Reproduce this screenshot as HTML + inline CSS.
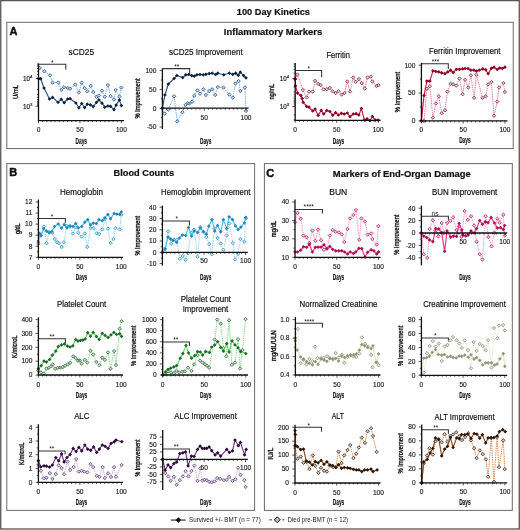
<!DOCTYPE html><html><head><meta charset="utf-8"><style>html,body{margin:0;padding:0;background:#fff;}svg{display:block;font-family:"Liberation Sans", sans-serif;will-change:transform;}</style></head><body>
<svg width="520" height="530" viewBox="0 0 520 530">
<rect x="0" y="0" width="520" height="530" fill="#fff"/>
<rect x="0.75" y="0.6" width="518.5" height="528.4" fill="none" stroke="#555" stroke-width="1.3"/>
<rect x="6.8" y="22.3" width="506.4" height="126.3" fill="none" stroke="#6a6a6a" stroke-width="1"/>
<rect x="6.8" y="163.6" width="247.8" height="346.8" fill="none" stroke="#6a6a6a" stroke-width="1"/>
<rect x="264.4" y="163.6" width="247.9" height="346.8" fill="none" stroke="#6a6a6a" stroke-width="1"/>
<text x="273.4" y="14.5" font-size="9.3" text-anchor="middle" font-weight="bold" fill="#111" textLength="73.1" lengthAdjust="spacingAndGlyphs" stroke="#111" stroke-width="0.2">100 Day Kinetics</text>
<text x="273" y="35.3" font-size="9.3" text-anchor="middle" font-weight="bold" fill="#111" textLength="98.3" lengthAdjust="spacingAndGlyphs" stroke="#111" stroke-width="0.2">Inflammatory Markers</text>
<text x="143.8" y="176.4" font-size="9.3" text-anchor="middle" font-weight="bold" fill="#111" textLength="60.5" lengthAdjust="spacingAndGlyphs" stroke="#111" stroke-width="0.2">Blood Counts</text>
<text x="401.8" y="176.5" font-size="9.3" text-anchor="middle" font-weight="bold" fill="#111" textLength="137.9" lengthAdjust="spacingAndGlyphs" stroke="#111" stroke-width="0.2">Markers of End-Organ Damage</text>
<text x="13.5" y="35.2" font-size="11" text-anchor="middle" font-weight="bold" fill="#111" stroke="#111" stroke-width="0.45">A</text>
<text x="13.3" y="176.1" font-size="11" text-anchor="middle" font-weight="bold" fill="#111" stroke="#111" stroke-width="0.45">B</text>
<text x="270.3" y="176.6" font-size="11" text-anchor="middle" font-weight="bold" fill="#111" stroke="#111" stroke-width="0.45">C</text>
<path d="M38.5 64.3H65.8V69.6" stroke="#333" stroke-width="1.05" fill="none"/>
<text x="52.3" y="65.2" font-size="6.6" text-anchor="middle" font-weight="normal" fill="#111">*</text>
<polyline points="39.7,68 44.3,71.3 50.1,75.3 52.6,82.7 58.3,82.5 61.5,90 64,87.2 67.7,88 70.1,88.8 75.3,84.5 78.9,92.5 81.7,82.7 84.6,88.2 87.3,91.3 90.7,85.8 93.2,92.1 96.5,96.8 98.9,95.6 102,90.7 104.8,96.8 107.9,85.1 110.6,96.2 114,99.5 115.7,90 119.4,96.5 121.4,87.6" fill="none" stroke="#7ea8d8" stroke-width="0.95" stroke-dasharray="1.5 0.8"/>
<path d="M39.7 66.3L41.4 68L39.7 69.7L38 68ZM44.3 69.6L46 71.3L44.3 73L42.6 71.3ZM50.1 73.6L51.8 75.3L50.1 77L48.4 75.3ZM52.6 81L54.3 82.7L52.6 84.4L50.9 82.7ZM58.3 80.8L60 82.5L58.3 84.2L56.6 82.5ZM61.5 88.3L63.2 90L61.5 91.7L59.8 90ZM64 85.5L65.7 87.2L64 88.9L62.3 87.2ZM67.7 86.3L69.4 88L67.7 89.7L66 88ZM70.1 87.1L71.8 88.8L70.1 90.5L68.4 88.8ZM75.3 82.8L77 84.5L75.3 86.2L73.6 84.5ZM78.9 90.8L80.6 92.5L78.9 94.2L77.2 92.5ZM81.7 81L83.4 82.7L81.7 84.4L80 82.7ZM84.6 86.5L86.3 88.2L84.6 89.9L82.9 88.2ZM87.3 89.6L89 91.3L87.3 93L85.6 91.3ZM90.7 84.1L92.4 85.8L90.7 87.5L89 85.8ZM93.2 90.4L94.9 92.1L93.2 93.8L91.5 92.1ZM96.5 95.1L98.2 96.8L96.5 98.5L94.8 96.8ZM98.9 93.9L100.6 95.6L98.9 97.3L97.2 95.6ZM102 89L103.7 90.7L102 92.4L100.3 90.7ZM104.8 95.1L106.5 96.8L104.8 98.5L103.1 96.8ZM107.9 83.4L109.6 85.1L107.9 86.8L106.2 85.1ZM110.6 94.5L112.3 96.2L110.6 97.9L108.9 96.2ZM114 97.8L115.7 99.5L114 101.2L112.3 99.5ZM115.7 88.3L117.4 90L115.7 91.7L114 90ZM119.4 94.8L121.1 96.5L119.4 98.2L117.7 96.5ZM121.4 85.9L123.1 87.6L121.4 89.3L119.7 87.6Z" fill="#c7d4e4" stroke="#4670a8" stroke-width="1"/>
<polyline points="38.5,78.4 40.7,78.7 44,88 49.5,99 52.6,97.4 58,102.3 61.2,99.3 64.2,102.7 67.7,99 70.1,98.7 75.9,103 78.9,107.8 81.7,103.5 84.6,107.6 87.3,104.2 90.3,104.8 93.2,106.6 96.5,102.3 98.9,99.9 102,103.2 104.8,107.2 107.9,106 110.6,106.4 114,109.7 116.1,105.1 119.4,99.9 121.4,105.6" fill="none" stroke="#34557f" stroke-width="1.15" stroke-linejoin="round"/>
<path d="M38.5 76.55L40.35 78.4L38.5 80.25L36.65 78.4ZM40.7 76.85L42.55 78.7L40.7 80.55L38.85 78.7ZM44 86.15L45.85 88L44 89.85L42.15 88ZM49.5 97.15L51.35 99L49.5 100.85L47.65 99ZM52.6 95.55L54.45 97.4L52.6 99.25L50.75 97.4ZM58 100.45L59.85 102.3L58 104.15L56.15 102.3ZM61.2 97.45L63.05 99.3L61.2 101.15L59.35 99.3ZM64.2 100.85L66.05 102.7L64.2 104.55L62.35 102.7ZM67.7 97.15L69.55 99L67.7 100.85L65.85 99ZM70.1 96.85L71.95 98.7L70.1 100.55L68.25 98.7ZM75.9 101.15L77.75 103L75.9 104.85L74.05 103ZM78.9 105.95L80.75 107.8L78.9 109.65L77.05 107.8ZM81.7 101.65L83.55 103.5L81.7 105.35L79.85 103.5ZM84.6 105.75L86.45 107.6L84.6 109.45L82.75 107.6ZM87.3 102.35L89.15 104.2L87.3 106.05L85.45 104.2ZM90.3 102.95L92.15 104.8L90.3 106.65L88.45 104.8ZM93.2 104.75L95.05 106.6L93.2 108.45L91.35 106.6ZM96.5 100.45L98.35 102.3L96.5 104.15L94.65 102.3ZM98.9 98.05L100.75 99.9L98.9 101.75L97.05 99.9ZM102 101.35L103.85 103.2L102 105.05L100.15 103.2ZM104.8 105.35L106.65 107.2L104.8 109.05L102.95 107.2ZM107.9 104.15L109.75 106L107.9 107.85L106.05 106ZM110.6 104.55L112.45 106.4L110.6 108.25L108.75 106.4ZM114 107.85L115.85 109.7L114 111.55L112.15 109.7ZM116.1 103.25L117.95 105.1L116.1 106.95L114.25 105.1ZM119.4 98.05L121.25 99.9L119.4 101.75L117.55 99.9ZM121.4 103.75L123.25 105.6L121.4 107.45L119.55 105.6Z" fill="#0b2440"/>
<path d="M38.5 63.5V121.2" stroke="#111" stroke-width="1.3"/>
<path d="M37.9 120.6H124" stroke="#111" stroke-width="1.3"/>
<path d="M38.5 120.6V123.2M42.64 120.6V122.1M46.79 120.6V122.1M50.94 120.6V122.1M55.08 120.6V122.1M59.23 120.6V122.1M63.37 120.6V122.1M67.52 120.6V122.1M71.66 120.6V122.1M75.81 120.6V122.1M79.95 120.6V123.2M84.09 120.6V122.1M88.24 120.6V122.1M92.38 120.6V122.1M96.53 120.6V122.1M100.67 120.6V122.1M104.82 120.6V122.1M108.97 120.6V122.1M113.11 120.6V122.1M117.26 120.6V122.1M121.4 120.6V123.2M35.7 78.4H38.5M35.7 106.4H38.5M36.9 64H38.5M36.9 66H38.5M36.9 68.5H38.5M36.9 71.3H38.5M36.9 74.6H38.5M36.9 89.6H38.5M36.9 94.5H38.5M36.9 97.4H38.5M36.9 99.5H38.5M36.9 101.4H38.5M36.9 102.9H38.5M36.9 104.2H38.5M36.9 105.3H38.5" stroke="#111" stroke-width="0.7"/>
<text x="32.5" y="81" font-size="6.4" text-anchor="end" fill="#222" stroke="#222" stroke-width="0.18">10<tspan font-size="4.4" dy="-2.7">4</tspan></text>
<text x="32.5" y="109" font-size="6.4" text-anchor="end" fill="#222" stroke="#222" stroke-width="0.18">10<tspan font-size="4.4" dy="-2.7">3</tspan></text>
<text x="38.5" y="132.1" font-size="6.6" text-anchor="middle" font-weight="normal" fill="#222" stroke="#222" stroke-width="0.15">0</text>
<text x="79.95" y="132.1" font-size="6.6" text-anchor="middle" font-weight="normal" fill="#222" stroke="#222" stroke-width="0.15">50</text>
<text x="121.4" y="132.1" font-size="6.6" text-anchor="middle" font-weight="normal" fill="#222" stroke="#222" stroke-width="0.15">100</text>
<text x="81.3" y="143.5" font-size="8.4" text-anchor="middle" font-weight="bold" fill="#1a1a1a" textLength="11.5" lengthAdjust="spacingAndGlyphs" stroke="#1a1a1a" stroke-width="0.2">Days</text>
<text transform="translate(17.8 92) rotate(-90)" font-size="6.9" text-anchor="middle" font-weight="normal" fill="#1a1a1a" stroke="#1a1a1a" stroke-width="0.38" textLength="13.9" lengthAdjust="spacingAndGlyphs">U/mL</text>
<text x="81.3" y="55" font-size="8.6" text-anchor="middle" font-weight="normal" fill="#111" textLength="25.6" lengthAdjust="spacingAndGlyphs" stroke="#111" stroke-width="0.18">sCD25</text>
<path d="M162.4 68.6H189.7V73.9" stroke="#333" stroke-width="1.05" fill="none"/>
<text x="176.8" y="69" font-size="6.6" text-anchor="middle" font-weight="normal" fill="#111">**</text>
<polyline points="162.4,108.2 164.6,113.5 168.3,109.5 174.1,96.3 177.2,121.4 182.4,112.2 185.5,104.9 187.7,103.3 189.4,103.6 192.1,101.6 194.3,95.7 197.4,90.4 200,93.7 203.3,89.3 205.9,95 209.2,91 212.2,89.3 215.2,95 217.8,87.1 223.5,87.5 229.3,94.6 232.8,97.6 235.4,83.5 238.6,81.1 240.3,91 244.9,87.5 246,110.9" fill="none" stroke="#7ea8d8" stroke-width="0.95" stroke-dasharray="1.5 0.8"/>
<path d="M162.4 106.5L164.1 108.2L162.4 109.9L160.7 108.2ZM164.6 111.8L166.3 113.5L164.6 115.2L162.9 113.5ZM168.3 107.8L170 109.5L168.3 111.2L166.6 109.5ZM174.1 94.6L175.8 96.3L174.1 98L172.4 96.3ZM177.2 119.7L178.9 121.4L177.2 123.1L175.5 121.4ZM182.4 110.5L184.1 112.2L182.4 113.9L180.7 112.2ZM185.5 103.2L187.2 104.9L185.5 106.6L183.8 104.9ZM187.7 101.6L189.4 103.3L187.7 105L186 103.3ZM189.4 101.9L191.1 103.6L189.4 105.3L187.7 103.6ZM192.1 99.9L193.8 101.6L192.1 103.3L190.4 101.6ZM194.3 94L196 95.7L194.3 97.4L192.6 95.7ZM197.4 88.7L199.1 90.4L197.4 92.1L195.7 90.4ZM200 92L201.7 93.7L200 95.4L198.3 93.7ZM203.3 87.6L205 89.3L203.3 91L201.6 89.3ZM205.9 93.3L207.6 95L205.9 96.7L204.2 95ZM209.2 89.3L210.9 91L209.2 92.7L207.5 91ZM212.2 87.6L213.9 89.3L212.2 91L210.5 89.3ZM215.2 93.3L216.9 95L215.2 96.7L213.5 95ZM217.8 85.4L219.5 87.1L217.8 88.8L216.1 87.1ZM223.5 85.8L225.2 87.5L223.5 89.2L221.8 87.5ZM229.3 92.9L231 94.6L229.3 96.3L227.6 94.6ZM232.8 95.9L234.5 97.6L232.8 99.3L231.1 97.6ZM235.4 81.8L237.1 83.5L235.4 85.2L233.7 83.5ZM238.6 79.4L240.3 81.1L238.6 82.8L236.9 81.1ZM240.3 89.3L242 91L240.3 92.7L238.6 91ZM244.9 85.8L246.6 87.5L244.9 89.2L243.2 87.5ZM246 109.2L247.7 110.9L246 112.6L244.3 110.9Z" fill="#c7d4e4" stroke="#4670a8" stroke-width="1"/>
<polyline points="162.4,108.2 164.9,95 168.3,84 174.1,78.5 176.9,75.5 182.7,77.6 185.7,74.8 188.6,74.5 191.7,75.6 194.3,76.1 197,74.8 200,74.5 203.3,74.8 205.9,74.3 209.2,73.6 212.2,73.2 215.6,74.5 217.8,73.2 223.8,74.8 229.3,73.2 232.8,74.3 235.7,73.2 238.3,75.2 240.3,72.2 243.6,75.6 246,77.8" fill="none" stroke="#34557f" stroke-width="1.15" stroke-linejoin="round"/>
<path d="M162.4 106.35L164.25 108.2L162.4 110.05L160.55 108.2ZM164.9 93.15L166.75 95L164.9 96.85L163.05 95ZM168.3 82.15L170.15 84L168.3 85.85L166.45 84ZM174.1 76.65L175.95 78.5L174.1 80.35L172.25 78.5ZM176.9 73.65L178.75 75.5L176.9 77.35L175.05 75.5ZM182.7 75.75L184.55 77.6L182.7 79.45L180.85 77.6ZM185.7 72.95L187.55 74.8L185.7 76.65L183.85 74.8ZM188.6 72.65L190.45 74.5L188.6 76.35L186.75 74.5ZM191.7 73.75L193.55 75.6L191.7 77.45L189.85 75.6ZM194.3 74.25L196.15 76.1L194.3 77.95L192.45 76.1ZM197 72.95L198.85 74.8L197 76.65L195.15 74.8ZM200 72.65L201.85 74.5L200 76.35L198.15 74.5ZM203.3 72.95L205.15 74.8L203.3 76.65L201.45 74.8ZM205.9 72.45L207.75 74.3L205.9 76.15L204.05 74.3ZM209.2 71.75L211.05 73.6L209.2 75.45L207.35 73.6ZM212.2 71.35L214.05 73.2L212.2 75.05L210.35 73.2ZM215.6 72.65L217.45 74.5L215.6 76.35L213.75 74.5ZM217.8 71.35L219.65 73.2L217.8 75.05L215.95 73.2ZM223.8 72.95L225.65 74.8L223.8 76.65L221.95 74.8ZM229.3 71.35L231.15 73.2L229.3 75.05L227.45 73.2ZM232.8 72.45L234.65 74.3L232.8 76.15L230.95 74.3ZM235.7 71.35L237.55 73.2L235.7 75.05L233.85 73.2ZM238.3 73.35L240.15 75.2L238.3 77.05L236.45 75.2ZM240.3 70.35L242.15 72.2L240.3 74.05L238.45 72.2ZM243.6 73.75L245.45 75.6L243.6 77.45L241.75 75.6ZM246 75.95L247.85 77.8L246 79.65L244.15 77.8Z" fill="#0b2440"/>
<path d="M162.4 68.5V129.1" stroke="#111" stroke-width="1.3"/>
<path d="M161.8 108.2H248.6" stroke="#111" stroke-width="1.3"/>
<path d="M162.4 108.2V110.8M166.58 108.2V109.7M170.76 108.2V109.7M174.94 108.2V109.7M179.12 108.2V109.7M183.3 108.2V109.7M187.48 108.2V109.7M191.66 108.2V109.7M195.84 108.2V109.7M200.02 108.2V109.7M204.2 108.2V110.8M208.38 108.2V109.7M212.56 108.2V109.7M216.74 108.2V109.7M220.92 108.2V109.7M225.1 108.2V109.7M229.28 108.2V109.7M233.46 108.2V109.7M237.64 108.2V109.7M241.82 108.2V109.7M246 108.2V110.8M159.6 70.6H162.4M159.6 89.4H162.4M159.6 108.2H162.4M159.6 127H162.4M160.8 80H162.4M160.8 98.8H162.4M160.8 117.6H162.4" stroke="#111" stroke-width="0.7"/>
<text x="156.4" y="72.9" font-size="6.6" text-anchor="end" font-weight="normal" fill="#222" stroke="#222" stroke-width="0.15">100</text>
<text x="156.4" y="91.7" font-size="6.6" text-anchor="end" font-weight="normal" fill="#222" stroke="#222" stroke-width="0.15">50</text>
<text x="156.4" y="110.5" font-size="6.6" text-anchor="end" font-weight="normal" fill="#222" stroke="#222" stroke-width="0.15">0</text>
<text x="156.4" y="129.3" font-size="6.6" text-anchor="end" font-weight="normal" fill="#222" stroke="#222" stroke-width="0.15">-50</text>
<text x="204.2" y="119.6" font-size="6.6" text-anchor="middle" font-weight="normal" fill="#222" stroke="#222" stroke-width="0.15">50</text>
<text x="246" y="119.6" font-size="6.6" text-anchor="middle" font-weight="normal" fill="#222" stroke="#222" stroke-width="0.15">100</text>
<text x="205.7" y="143.5" font-size="8.4" text-anchor="middle" font-weight="bold" fill="#1a1a1a" textLength="11.5" lengthAdjust="spacingAndGlyphs" stroke="#1a1a1a" stroke-width="0.2">Days</text>
<text transform="translate(140 98.5) rotate(-90)" font-size="6.9" text-anchor="middle" font-weight="normal" fill="#1a1a1a" stroke="#1a1a1a" stroke-width="0.38" textLength="40" lengthAdjust="spacingAndGlyphs">% Improvement</text>
<text x="205.8" y="54.8" font-size="8.6" text-anchor="middle" font-weight="normal" fill="#111" textLength="73.7" lengthAdjust="spacingAndGlyphs" stroke="#111" stroke-width="0.18">sCD25 Improvement</text>
<path d="M295.2 70.4H321.6V77.2" stroke="#333" stroke-width="1.05" fill="none"/>
<text x="308.7" y="71.1" font-size="6.6" text-anchor="middle" font-weight="normal" fill="#111">*</text>
<polyline points="295.2,79 297.4,74.5 302.9,90 306.6,97.4 309,91.6 312.7,91.6 315.1,80.8 318.2,83.9 320.7,85.1 323.7,89.4 326.8,89.2 329.9,88 332.7,91.3 335.6,93.1 338.4,91.3 341.7,94.6 344.6,92.9 347.3,81.5 350,91.6 353.2,77.5 355.8,81.8 358.9,79 361.7,83.1 364.8,88.5 367.5,77.5 370.8,76.6 372.4,81.5 376.5,86 378.5,85.1" fill="none" stroke="#e27a95" stroke-width="0.95" stroke-dasharray="1.5 0.8"/>
<path d="M295.2 77.3L296.9 79L295.2 80.7L293.5 79ZM297.4 72.8L299.1 74.5L297.4 76.2L295.7 74.5ZM302.9 88.3L304.6 90L302.9 91.7L301.2 90ZM306.6 95.7L308.3 97.4L306.6 99.1L304.9 97.4ZM309 89.9L310.7 91.6L309 93.3L307.3 91.6ZM312.7 89.9L314.4 91.6L312.7 93.3L311 91.6ZM315.1 79.1L316.8 80.8L315.1 82.5L313.4 80.8ZM318.2 82.2L319.9 83.9L318.2 85.6L316.5 83.9ZM320.7 83.4L322.4 85.1L320.7 86.8L319 85.1ZM323.7 87.7L325.4 89.4L323.7 91.1L322 89.4ZM326.8 87.5L328.5 89.2L326.8 90.9L325.1 89.2ZM329.9 86.3L331.6 88L329.9 89.7L328.2 88ZM332.7 89.6L334.4 91.3L332.7 93L331 91.3ZM335.6 91.4L337.3 93.1L335.6 94.8L333.9 93.1ZM338.4 89.6L340.1 91.3L338.4 93L336.7 91.3ZM341.7 92.9L343.4 94.6L341.7 96.3L340 94.6ZM344.6 91.2L346.3 92.9L344.6 94.6L342.9 92.9ZM347.3 79.8L349 81.5L347.3 83.2L345.6 81.5ZM350 89.9L351.7 91.6L350 93.3L348.3 91.6ZM353.2 75.8L354.9 77.5L353.2 79.2L351.5 77.5ZM355.8 80.1L357.5 81.8L355.8 83.5L354.1 81.8ZM358.9 77.3L360.6 79L358.9 80.7L357.2 79ZM361.7 81.4L363.4 83.1L361.7 84.8L360 83.1ZM364.8 86.8L366.5 88.5L364.8 90.2L363.1 88.5ZM367.5 75.8L369.2 77.5L367.5 79.2L365.8 77.5ZM370.8 74.9L372.5 76.6L370.8 78.3L369.1 76.6ZM372.4 79.8L374.1 81.5L372.4 83.2L370.7 81.5ZM376.5 84.3L378.2 86L376.5 87.7L374.8 86ZM378.5 83.4L380.2 85.1L378.5 86.8L376.8 85.1Z" fill="#e0c7cf" stroke="#9a4560" stroke-width="1"/>
<polyline points="295.2,79 295.5,85.8 297.6,93.1 300.8,95.6 302.2,98.6 303.2,102.3 306.6,106.4 309,107.2 312.7,111 315.1,109.1 318.2,115.4 321.3,110.3 323.7,114 326.8,110.5 329.9,111.5 332.7,115.2 335.6,112.7 338.4,115 341.4,113.3 344.2,114 347.3,113 350,116.7 353.2,114 356.1,113.7 358.9,115 361.4,108.4 364.4,120 367.1,118.9 370,120.7 372.4,116.4 375.2,120.1 378.2,120.1" fill="none" stroke="#c0203e" stroke-width="1.15" stroke-linejoin="round"/>
<path d="M295.2 77.15L297.05 79L295.2 80.85L293.35 79ZM295.5 83.95L297.35 85.8L295.5 87.65L293.65 85.8ZM297.6 91.25L299.45 93.1L297.6 94.95L295.75 93.1ZM300.8 93.75L302.65 95.6L300.8 97.45L298.95 95.6ZM302.2 96.75L304.05 98.6L302.2 100.45L300.35 98.6ZM303.2 100.45L305.05 102.3L303.2 104.15L301.35 102.3ZM306.6 104.55L308.45 106.4L306.6 108.25L304.75 106.4ZM309 105.35L310.85 107.2L309 109.05L307.15 107.2ZM312.7 109.15L314.55 111L312.7 112.85L310.85 111ZM315.1 107.25L316.95 109.1L315.1 110.95L313.25 109.1ZM318.2 113.55L320.05 115.4L318.2 117.25L316.35 115.4ZM321.3 108.45L323.15 110.3L321.3 112.15L319.45 110.3ZM323.7 112.15L325.55 114L323.7 115.85L321.85 114ZM326.8 108.65L328.65 110.5L326.8 112.35L324.95 110.5ZM329.9 109.65L331.75 111.5L329.9 113.35L328.05 111.5ZM332.7 113.35L334.55 115.2L332.7 117.05L330.85 115.2ZM335.6 110.85L337.45 112.7L335.6 114.55L333.75 112.7ZM338.4 113.15L340.25 115L338.4 116.85L336.55 115ZM341.4 111.45L343.25 113.3L341.4 115.15L339.55 113.3ZM344.2 112.15L346.05 114L344.2 115.85L342.35 114ZM347.3 111.15L349.15 113L347.3 114.85L345.45 113ZM350 114.85L351.85 116.7L350 118.55L348.15 116.7ZM353.2 112.15L355.05 114L353.2 115.85L351.35 114ZM356.1 111.85L357.95 113.7L356.1 115.55L354.25 113.7ZM358.9 113.15L360.75 115L358.9 116.85L357.05 115ZM361.4 106.55L363.25 108.4L361.4 110.25L359.55 108.4ZM364.4 118.15L366.25 120L364.4 121.85L362.55 120ZM367.1 117.05L368.95 118.9L367.1 120.75L365.25 118.9ZM370 118.85L371.85 120.7L370 122.55L368.15 120.7ZM372.4 114.55L374.25 116.4L372.4 118.25L370.55 116.4ZM375.2 118.25L377.05 120.1L375.2 121.95L373.35 120.1ZM378.2 118.25L380.05 120.1L378.2 121.95L376.35 120.1Z" fill="#8e0022"/>
<path d="M295.2 63V120.9" stroke="#111" stroke-width="1.3"/>
<path d="M294.6 120.3H380.6" stroke="#111" stroke-width="1.3"/>
<path d="M295.2 120.3V122.9M299.35 120.3V121.8M303.5 120.3V121.8M307.65 120.3V121.8M311.8 120.3V121.8M315.95 120.3V121.8M320.1 120.3V121.8M324.25 120.3V121.8M328.4 120.3V121.8M332.55 120.3V121.8M336.7 120.3V122.9M340.85 120.3V121.8M345 120.3V121.8M349.15 120.3V121.8M353.3 120.3V121.8M357.45 120.3V121.8M361.6 120.3V121.8M365.75 120.3V121.8M369.9 120.3V121.8M374.05 120.3V121.8M378.2 120.3V122.9M292.4 78.5H295.2M292.4 106.5H295.2M293.6 64H295.2M293.6 66.2H295.2M293.6 69.4H295.2M293.6 73.1H295.2M293.6 87H295.2M293.6 91.9H295.2M293.6 94.8H295.2M293.6 97H295.2M293.6 98.8H295.2M293.6 100.4H295.2M293.6 101.9H295.2M293.6 103.2H295.2M293.6 105H295.2M293.6 115H295.2M293.6 119.9H295.2" stroke="#111" stroke-width="0.7"/>
<text x="289.2" y="81.1" font-size="6.4" text-anchor="end" fill="#222" stroke="#222" stroke-width="0.18">10<tspan font-size="4.4" dy="-2.7">4</tspan></text>
<text x="289.2" y="109.1" font-size="6.4" text-anchor="end" fill="#222" stroke="#222" stroke-width="0.18">10<tspan font-size="4.4" dy="-2.7">3</tspan></text>
<text x="295.2" y="131.8" font-size="6.6" text-anchor="middle" font-weight="normal" fill="#222" stroke="#222" stroke-width="0.15">0</text>
<text x="336.7" y="131.8" font-size="6.6" text-anchor="middle" font-weight="normal" fill="#222" stroke="#222" stroke-width="0.15">50</text>
<text x="378.2" y="131.8" font-size="6.6" text-anchor="middle" font-weight="normal" fill="#222" stroke="#222" stroke-width="0.15">100</text>
<text x="338.5" y="143.5" font-size="8.4" text-anchor="middle" font-weight="bold" fill="#1a1a1a" textLength="11.5" lengthAdjust="spacingAndGlyphs" stroke="#1a1a1a" stroke-width="0.2">Days</text>
<text transform="translate(274.4 91.7) rotate(-90)" font-size="6.9" text-anchor="middle" font-weight="normal" fill="#1a1a1a" stroke="#1a1a1a" stroke-width="0.38" textLength="15.8" lengthAdjust="spacingAndGlyphs">ng/mL</text>
<text x="338.2" y="57.6" font-size="8.6" text-anchor="middle" font-weight="normal" fill="#111" textLength="23.5" lengthAdjust="spacingAndGlyphs" stroke="#111" stroke-width="0.18">Ferritin</text>
<path d="M421.4 63.8H448.3V68.9" stroke="#333" stroke-width="1.05" fill="none"/>
<text x="435.5" y="64" font-size="6.6" text-anchor="middle" font-weight="normal" fill="#111">***</text>
<polyline points="421.4,120.9 424,120.9 426.9,88.8 429.9,86.2 432.9,117.7 435.9,103.5 438.8,96.2 441.7,113.2 444.9,110.3 447.4,91.6 450.6,83.7 453.2,84.3 456.4,85.6 459.4,78.5 462.6,94.2 465.1,79.8 468.3,87.5 470.9,75.3 474.1,97.8 476.4,74.7 482.5,97.8 485.7,96.2 488.2,84.3 491.4,82.1 494,115.7 497.2,101.6 499.1,87.5 503.4,83 504.9,92" fill="none" stroke="#e27a95" stroke-width="0.95" stroke-dasharray="1.5 0.8"/>
<path d="M421.4 119.2L423.1 120.9L421.4 122.6L419.7 120.9ZM424 119.2L425.7 120.9L424 122.6L422.3 120.9ZM426.9 87.1L428.6 88.8L426.9 90.5L425.2 88.8ZM429.9 84.5L431.6 86.2L429.9 87.9L428.2 86.2ZM432.9 116L434.6 117.7L432.9 119.4L431.2 117.7ZM435.9 101.8L437.6 103.5L435.9 105.2L434.2 103.5ZM438.8 94.5L440.5 96.2L438.8 97.9L437.1 96.2ZM441.7 111.5L443.4 113.2L441.7 114.9L440 113.2ZM444.9 108.6L446.6 110.3L444.9 112L443.2 110.3ZM447.4 89.9L449.1 91.6L447.4 93.3L445.7 91.6ZM450.6 82L452.3 83.7L450.6 85.4L448.9 83.7ZM453.2 82.6L454.9 84.3L453.2 86L451.5 84.3ZM456.4 83.9L458.1 85.6L456.4 87.3L454.7 85.6ZM459.4 76.8L461.1 78.5L459.4 80.2L457.7 78.5ZM462.6 92.5L464.3 94.2L462.6 95.9L460.9 94.2ZM465.1 78.1L466.8 79.8L465.1 81.5L463.4 79.8ZM468.3 85.8L470 87.5L468.3 89.2L466.6 87.5ZM470.9 73.6L472.6 75.3L470.9 77L469.2 75.3ZM474.1 96.1L475.8 97.8L474.1 99.5L472.4 97.8ZM476.4 73L478.1 74.7L476.4 76.4L474.7 74.7ZM482.5 96.1L484.2 97.8L482.5 99.5L480.8 97.8ZM485.7 94.5L487.4 96.2L485.7 97.9L484 96.2ZM488.2 82.6L489.9 84.3L488.2 86L486.5 84.3ZM491.4 80.4L493.1 82.1L491.4 83.8L489.7 82.1ZM494 114L495.7 115.7L494 117.4L492.3 115.7ZM497.2 99.9L498.9 101.6L497.2 103.3L495.5 101.6ZM499.1 85.8L500.8 87.5L499.1 89.2L497.4 87.5ZM503.4 81.3L505.1 83L503.4 84.7L501.7 83ZM504.9 90.3L506.6 92L504.9 93.7L503.2 92Z" fill="#e0c7cf" stroke="#9a4560" stroke-width="1"/>
<polyline points="421.4,120.9 424,95.5 426.9,81.1 429.9,81.1 432.9,70.8 435.9,71.5 438.8,71.9 441.7,72.8 444.9,73.7 447.8,71.9 450.6,70.2 453.2,72.4 456.4,69.3 459.4,69.3 462.6,68.9 465.1,68.5 468,68.5 470.9,70.2 473.9,70.2 476.4,71.1 479.2,70.2 482.8,68.9 485.7,69.8 488.2,73.7 491.4,68.3 494,67.2 497.2,69.5 499.8,68 502.3,68.5 504.9,67.2" fill="none" stroke="#c0203e" stroke-width="1.15" stroke-linejoin="round"/>
<path d="M421.4 119.05L423.25 120.9L421.4 122.75L419.55 120.9ZM424 93.65L425.85 95.5L424 97.35L422.15 95.5ZM426.9 79.25L428.75 81.1L426.9 82.95L425.05 81.1ZM429.9 79.25L431.75 81.1L429.9 82.95L428.05 81.1ZM432.9 68.95L434.75 70.8L432.9 72.65L431.05 70.8ZM435.9 69.65L437.75 71.5L435.9 73.35L434.05 71.5ZM438.8 70.05L440.65 71.9L438.8 73.75L436.95 71.9ZM441.7 70.95L443.55 72.8L441.7 74.65L439.85 72.8ZM444.9 71.85L446.75 73.7L444.9 75.55L443.05 73.7ZM447.8 70.05L449.65 71.9L447.8 73.75L445.95 71.9ZM450.6 68.35L452.45 70.2L450.6 72.05L448.75 70.2ZM453.2 70.55L455.05 72.4L453.2 74.25L451.35 72.4ZM456.4 67.45L458.25 69.3L456.4 71.15L454.55 69.3ZM459.4 67.45L461.25 69.3L459.4 71.15L457.55 69.3ZM462.6 67.05L464.45 68.9L462.6 70.75L460.75 68.9ZM465.1 66.65L466.95 68.5L465.1 70.35L463.25 68.5ZM468 66.65L469.85 68.5L468 70.35L466.15 68.5ZM470.9 68.35L472.75 70.2L470.9 72.05L469.05 70.2ZM473.9 68.35L475.75 70.2L473.9 72.05L472.05 70.2ZM476.4 69.25L478.25 71.1L476.4 72.95L474.55 71.1ZM479.2 68.35L481.05 70.2L479.2 72.05L477.35 70.2ZM482.8 67.05L484.65 68.9L482.8 70.75L480.95 68.9ZM485.7 67.95L487.55 69.8L485.7 71.65L483.85 69.8ZM488.2 71.85L490.05 73.7L488.2 75.55L486.35 73.7ZM491.4 66.45L493.25 68.3L491.4 70.15L489.55 68.3ZM494 65.35L495.85 67.2L494 69.05L492.15 67.2ZM497.2 67.65L499.05 69.5L497.2 71.35L495.35 69.5ZM499.8 66.15L501.65 68L499.8 69.85L497.95 68ZM502.3 66.65L504.15 68.5L502.3 70.35L500.45 68.5ZM504.9 65.35L506.75 67.2L504.9 69.05L503.05 67.2Z" fill="#8e0022"/>
<path d="M421.4 62.9V121.5" stroke="#111" stroke-width="1.3"/>
<path d="M420.8 120.9H507.5" stroke="#111" stroke-width="1.3"/>
<path d="M421.4 120.9V123.5M425.57 120.9V122.4M429.75 120.9V122.4M433.92 120.9V122.4M438.1 120.9V122.4M442.27 120.9V122.4M446.45 120.9V122.4M450.62 120.9V122.4M454.8 120.9V122.4M458.97 120.9V122.4M463.15 120.9V123.5M467.32 120.9V122.4M471.5 120.9V122.4M475.67 120.9V122.4M479.85 120.9V122.4M484.02 120.9V122.4M488.2 120.9V122.4M492.38 120.9V122.4M496.55 120.9V122.4M500.72 120.9V122.4M504.9 120.9V123.5M418.6 65.2H421.4M418.6 93H421.4M418.6 120.9H421.4M419.8 79.1H421.4M419.8 107H421.4" stroke="#111" stroke-width="0.7"/>
<text x="415.4" y="67.5" font-size="6.6" text-anchor="end" font-weight="normal" fill="#222" stroke="#222" stroke-width="0.15">100</text>
<text x="415.4" y="95.3" font-size="6.6" text-anchor="end" font-weight="normal" fill="#222" stroke="#222" stroke-width="0.15">50</text>
<text x="415.4" y="123.2" font-size="6.6" text-anchor="end" font-weight="normal" fill="#222" stroke="#222" stroke-width="0.15">0</text>
<text x="421.4" y="132.4" font-size="6.6" text-anchor="middle" font-weight="normal" fill="#222" stroke="#222" stroke-width="0.15">0</text>
<text x="463.15" y="132.4" font-size="6.6" text-anchor="middle" font-weight="normal" fill="#222" stroke="#222" stroke-width="0.15">50</text>
<text x="504.9" y="132.4" font-size="6.6" text-anchor="middle" font-weight="normal" fill="#222" stroke="#222" stroke-width="0.15">100</text>
<text x="464.9" y="143.4" font-size="8.4" text-anchor="middle" font-weight="bold" fill="#1a1a1a" textLength="11.5" lengthAdjust="spacingAndGlyphs" stroke="#1a1a1a" stroke-width="0.2">Days</text>
<text transform="translate(399.8 92) rotate(-90)" font-size="6.9" text-anchor="middle" font-weight="normal" fill="#1a1a1a" stroke="#1a1a1a" stroke-width="0.38" textLength="40.3" lengthAdjust="spacingAndGlyphs">% Improvement</text>
<text x="464.7" y="54.1" font-size="8.6" text-anchor="middle" font-weight="normal" fill="#111" textLength="71.4" lengthAdjust="spacingAndGlyphs" stroke="#111" stroke-width="0.18">Ferritin Improvement</text>
<path d="M38.4 218.4H65.4V222.8" stroke="#333" stroke-width="1.05" fill="none"/>
<text x="52.1" y="218.6" font-size="6.6" text-anchor="middle" font-weight="normal" fill="#111">*</text>
<polyline points="38.4,243.9 40,235.8 44,226.5 46.5,243.3 48.9,232.1 52.1,232.7 54.9,239 57,242.3 58.9,243.3 61.6,247.1 63.9,242.3 66.6,225.9 69.5,226.5 72.9,233.6 75.7,227.4 78.3,232.7 81.5,236.5 84.8,233.4 87.3,247.1 90.5,228.1 93.6,228.1 96.7,233.4 99.2,234 102.3,229.4 105.1,219 107.9,228.6 110.6,243.1 113.5,239 115.4,228.1 119.7,229.4 121.3,214.7" fill="none" stroke="#8fd4f0" stroke-width="0.95" stroke-dasharray="1.5 0.8"/>
<path d="M38.4 242.2L40.1 243.9L38.4 245.6L36.7 243.9ZM40 234.1L41.7 235.8L40 237.5L38.3 235.8ZM44 224.8L45.7 226.5L44 228.2L42.3 226.5ZM46.5 241.6L48.2 243.3L46.5 245L44.8 243.3ZM48.9 230.4L50.6 232.1L48.9 233.8L47.2 232.1ZM52.1 231L53.8 232.7L52.1 234.4L50.4 232.7ZM54.9 237.3L56.6 239L54.9 240.7L53.2 239ZM57 240.6L58.7 242.3L57 244L55.3 242.3ZM58.9 241.6L60.6 243.3L58.9 245L57.2 243.3ZM61.6 245.4L63.3 247.1L61.6 248.8L59.9 247.1ZM63.9 240.6L65.6 242.3L63.9 244L62.2 242.3ZM66.6 224.2L68.3 225.9L66.6 227.6L64.9 225.9ZM69.5 224.8L71.2 226.5L69.5 228.2L67.8 226.5ZM72.9 231.9L74.6 233.6L72.9 235.3L71.2 233.6ZM75.7 225.7L77.4 227.4L75.7 229.1L74 227.4ZM78.3 231L80 232.7L78.3 234.4L76.6 232.7ZM81.5 234.8L83.2 236.5L81.5 238.2L79.8 236.5ZM84.8 231.7L86.5 233.4L84.8 235.1L83.1 233.4ZM87.3 245.4L89 247.1L87.3 248.8L85.6 247.1ZM90.5 226.4L92.2 228.1L90.5 229.8L88.8 228.1ZM93.6 226.4L95.3 228.1L93.6 229.8L91.9 228.1ZM96.7 231.7L98.4 233.4L96.7 235.1L95 233.4ZM99.2 232.3L100.9 234L99.2 235.7L97.5 234ZM102.3 227.7L104 229.4L102.3 231.1L100.6 229.4ZM105.1 217.3L106.8 219L105.1 220.7L103.4 219ZM107.9 226.9L109.6 228.6L107.9 230.3L106.2 228.6ZM110.6 241.4L112.3 243.1L110.6 244.8L108.9 243.1ZM113.5 237.3L115.2 239L113.5 240.7L111.8 239ZM115.4 226.4L117.1 228.1L115.4 229.8L113.7 228.1ZM119.7 227.7L121.4 229.4L119.7 231.1L118 229.4ZM121.3 213L123 214.7L121.3 216.4L119.6 214.7Z" fill="#c8e4f0" stroke="#4aa6d0" stroke-width="1"/>
<polyline points="38.4,242.1 39.6,233.4 41.2,235.6 43.7,228.6 46.5,231.1 49.2,232.7 51.8,231.5 54.5,226.5 58.3,224 61.4,228.1 64.3,224.4 67,227.8 70.1,225.9 72.9,226.5 75.7,223.4 78.3,227.8 81.7,226.5 84.8,222.2 87.7,219.7 90.5,224.9 93.2,223.1 96.4,223.6 98.9,219.7 102.3,220.7 104.8,217.8 107.9,214.4 110.6,218.7 114.1,213.4 116.9,214.1 119.7,214.4 121.3,211.9" fill="none" stroke="#45c0ee" stroke-width="1.15" stroke-linejoin="round"/>
<path d="M38.4 240.25L40.25 242.1L38.4 243.95L36.55 242.1ZM39.6 231.55L41.45 233.4L39.6 235.25L37.75 233.4ZM41.2 233.75L43.05 235.6L41.2 237.45L39.35 235.6ZM43.7 226.75L45.55 228.6L43.7 230.45L41.85 228.6ZM46.5 229.25L48.35 231.1L46.5 232.95L44.65 231.1ZM49.2 230.85L51.05 232.7L49.2 234.55L47.35 232.7ZM51.8 229.65L53.65 231.5L51.8 233.35L49.95 231.5ZM54.5 224.65L56.35 226.5L54.5 228.35L52.65 226.5ZM58.3 222.15L60.15 224L58.3 225.85L56.45 224ZM61.4 226.25L63.25 228.1L61.4 229.95L59.55 228.1ZM64.3 222.55L66.15 224.4L64.3 226.25L62.45 224.4ZM67 225.95L68.85 227.8L67 229.65L65.15 227.8ZM70.1 224.05L71.95 225.9L70.1 227.75L68.25 225.9ZM72.9 224.65L74.75 226.5L72.9 228.35L71.05 226.5ZM75.7 221.55L77.55 223.4L75.7 225.25L73.85 223.4ZM78.3 225.95L80.15 227.8L78.3 229.65L76.45 227.8ZM81.7 224.65L83.55 226.5L81.7 228.35L79.85 226.5ZM84.8 220.35L86.65 222.2L84.8 224.05L82.95 222.2ZM87.7 217.85L89.55 219.7L87.7 221.55L85.85 219.7ZM90.5 223.05L92.35 224.9L90.5 226.75L88.65 224.9ZM93.2 221.25L95.05 223.1L93.2 224.95L91.35 223.1ZM96.4 221.75L98.25 223.6L96.4 225.45L94.55 223.6ZM98.9 217.85L100.75 219.7L98.9 221.55L97.05 219.7ZM102.3 218.85L104.15 220.7L102.3 222.55L100.45 220.7ZM104.8 215.95L106.65 217.8L104.8 219.65L102.95 217.8ZM107.9 212.55L109.75 214.4L107.9 216.25L106.05 214.4ZM110.6 216.85L112.45 218.7L110.6 220.55L108.75 218.7ZM114.1 211.55L115.95 213.4L114.1 215.25L112.25 213.4ZM116.9 212.25L118.75 214.1L116.9 215.95L115.05 214.1ZM119.7 212.55L121.55 214.4L119.7 216.25L117.85 214.4ZM121.3 210.05L123.15 211.9L121.3 213.75L119.45 211.9Z" fill="#2288bb"/>
<path d="M38.4 199.5V257.9" stroke="#111" stroke-width="1.3"/>
<path d="M37.8 257.3H123" stroke="#111" stroke-width="1.3"/>
<path d="M38.4 257.3V259.9M42.55 257.3V258.8M46.69 257.3V258.8M50.84 257.3V258.8M54.98 257.3V258.8M59.12 257.3V258.8M63.27 257.3V258.8M67.41 257.3V258.8M71.56 257.3V258.8M75.71 257.3V258.8M79.85 257.3V259.9M84 257.3V258.8M88.14 257.3V258.8M92.28 257.3V258.8M96.43 257.3V258.8M100.57 257.3V258.8M104.72 257.3V258.8M108.87 257.3V258.8M113.01 257.3V258.8M117.16 257.3V258.8M121.3 257.3V259.9M35.6 257.3H38.4M35.6 246.24H38.4M35.6 235.18H38.4M35.6 224.12H38.4M35.6 213.06H38.4M35.6 202H38.4M36.8 251.77H38.4M36.8 240.71H38.4M36.8 229.65H38.4M36.8 218.59H38.4M36.8 207.53H38.4" stroke="#111" stroke-width="0.7"/>
<text x="32.4" y="259.6" font-size="6.6" text-anchor="end" font-weight="normal" fill="#222" stroke="#222" stroke-width="0.15">7</text>
<text x="32.4" y="248.54" font-size="6.6" text-anchor="end" font-weight="normal" fill="#222" stroke="#222" stroke-width="0.15">8</text>
<text x="32.4" y="237.48" font-size="6.6" text-anchor="end" font-weight="normal" fill="#222" stroke="#222" stroke-width="0.15">9</text>
<text x="32.4" y="226.42" font-size="6.6" text-anchor="end" font-weight="normal" fill="#222" stroke="#222" stroke-width="0.15">10</text>
<text x="32.4" y="215.36" font-size="6.6" text-anchor="end" font-weight="normal" fill="#222" stroke="#222" stroke-width="0.15">11</text>
<text x="32.4" y="204.3" font-size="6.6" text-anchor="end" font-weight="normal" fill="#222" stroke="#222" stroke-width="0.15">12</text>
<text x="38.4" y="268.8" font-size="6.6" text-anchor="middle" font-weight="normal" fill="#222" stroke="#222" stroke-width="0.15">0</text>
<text x="79.85" y="268.8" font-size="6.6" text-anchor="middle" font-weight="normal" fill="#222" stroke="#222" stroke-width="0.15">50</text>
<text x="121.3" y="268.8" font-size="6.6" text-anchor="middle" font-weight="normal" fill="#222" stroke="#222" stroke-width="0.15">100</text>
<text x="81.5" y="280.4" font-size="8.4" text-anchor="middle" font-weight="bold" fill="#1a1a1a" textLength="11.5" lengthAdjust="spacingAndGlyphs" stroke="#1a1a1a" stroke-width="0.2">Days</text>
<text transform="translate(20.3 228.7) rotate(-90)" font-size="6.9" text-anchor="middle" font-weight="normal" fill="#1a1a1a" stroke="#1a1a1a" stroke-width="0.38" textLength="10.6" lengthAdjust="spacingAndGlyphs">g/dL</text>
<text x="81.5" y="195.3" font-size="8.6" text-anchor="middle" font-weight="normal" fill="#111" textLength="43" lengthAdjust="spacingAndGlyphs" stroke="#111" stroke-width="0.18">Hemoglobin</text>
<path d="M162.4 220.9H189.4V225.5" stroke="#333" stroke-width="1.05" fill="none"/>
<text x="176.7" y="221.1" font-size="6.6" text-anchor="middle" font-weight="normal" fill="#111">*</text>
<polyline points="162.4,252.3 164.8,248.6 168.2,231.4 171.1,243.8 173.9,239.6 176.7,239.6 179.8,258.8 182.7,256 185.6,259.8 188.1,253.3 191,232.6 194.1,229.6 197.6,256.7 200.3,227.1 203.5,232.1 206.4,237.1 209.2,244.2 211.7,254.2 214.5,228.4 217.6,238 220.7,243.6 223.4,249.8 226.7,235.5 229.4,223.4 232.9,243 235,259.5 238.1,253.8 240.4,238.9 244.3,241.7 245.8,218.4" fill="none" stroke="#8fd4f0" stroke-width="0.95" stroke-dasharray="1.5 0.8"/>
<path d="M162.4 250.6L164.1 252.3L162.4 254L160.7 252.3ZM164.8 246.9L166.5 248.6L164.8 250.3L163.1 248.6ZM168.2 229.7L169.9 231.4L168.2 233.1L166.5 231.4ZM171.1 242.1L172.8 243.8L171.1 245.5L169.4 243.8ZM173.9 237.9L175.6 239.6L173.9 241.3L172.2 239.6ZM176.7 237.9L178.4 239.6L176.7 241.3L175 239.6ZM179.8 257.1L181.5 258.8L179.8 260.5L178.1 258.8ZM182.7 254.3L184.4 256L182.7 257.7L181 256ZM185.6 258.1L187.3 259.8L185.6 261.5L183.9 259.8ZM188.1 251.6L189.8 253.3L188.1 255L186.4 253.3ZM191 230.9L192.7 232.6L191 234.3L189.3 232.6ZM194.1 227.9L195.8 229.6L194.1 231.3L192.4 229.6ZM197.6 255L199.3 256.7L197.6 258.4L195.9 256.7ZM200.3 225.4L202 227.1L200.3 228.8L198.6 227.1ZM203.5 230.4L205.2 232.1L203.5 233.8L201.8 232.1ZM206.4 235.4L208.1 237.1L206.4 238.8L204.7 237.1ZM209.2 242.5L210.9 244.2L209.2 245.9L207.5 244.2ZM211.7 252.5L213.4 254.2L211.7 255.9L210 254.2ZM214.5 226.7L216.2 228.4L214.5 230.1L212.8 228.4ZM217.6 236.3L219.3 238L217.6 239.7L215.9 238ZM220.7 241.9L222.4 243.6L220.7 245.3L219 243.6ZM223.4 248.1L225.1 249.8L223.4 251.5L221.7 249.8ZM226.7 233.8L228.4 235.5L226.7 237.2L225 235.5ZM229.4 221.7L231.1 223.4L229.4 225.1L227.7 223.4ZM232.9 241.3L234.6 243L232.9 244.7L231.2 243ZM235 257.8L236.7 259.5L235 261.2L233.3 259.5ZM238.1 252.1L239.8 253.8L238.1 255.5L236.4 253.8ZM240.4 237.2L242.1 238.9L240.4 240.6L238.7 238.9ZM244.3 240L246 241.7L244.3 243.4L242.6 241.7ZM245.8 216.7L247.5 218.4L245.8 220.1L244.1 218.4Z" fill="#c8e4f0" stroke="#4aa6d0" stroke-width="1"/>
<polyline points="162.4,252.3 165.2,249.2 168,237.1 170.5,238.9 172.9,240.5 176.7,242.3 179.4,238 182.3,235.1 185.6,235.5 188.5,227.4 191.6,236.1 194.1,230.9 197.6,232.6 200.3,228 203.5,231.5 206.4,234.2 208.8,226.2 212,219.7 214.7,231.1 217.6,225.5 220.7,231.8 223.4,219.7 226.7,228.6 229.1,216.8 232.5,219.7 235.4,225.9 238.1,229.6 240.9,227.1 244.3,223 245.8,217.4" fill="none" stroke="#45c0ee" stroke-width="1.15" stroke-linejoin="round"/>
<path d="M162.4 250.45L164.25 252.3L162.4 254.15L160.55 252.3ZM165.2 247.35L167.05 249.2L165.2 251.05L163.35 249.2ZM168 235.25L169.85 237.1L168 238.95L166.15 237.1ZM170.5 237.05L172.35 238.9L170.5 240.75L168.65 238.9ZM172.9 238.65L174.75 240.5L172.9 242.35L171.05 240.5ZM176.7 240.45L178.55 242.3L176.7 244.15L174.85 242.3ZM179.4 236.15L181.25 238L179.4 239.85L177.55 238ZM182.3 233.25L184.15 235.1L182.3 236.95L180.45 235.1ZM185.6 233.65L187.45 235.5L185.6 237.35L183.75 235.5ZM188.5 225.55L190.35 227.4L188.5 229.25L186.65 227.4ZM191.6 234.25L193.45 236.1L191.6 237.95L189.75 236.1ZM194.1 229.05L195.95 230.9L194.1 232.75L192.25 230.9ZM197.6 230.75L199.45 232.6L197.6 234.45L195.75 232.6ZM200.3 226.15L202.15 228L200.3 229.85L198.45 228ZM203.5 229.65L205.35 231.5L203.5 233.35L201.65 231.5ZM206.4 232.35L208.25 234.2L206.4 236.05L204.55 234.2ZM208.8 224.35L210.65 226.2L208.8 228.05L206.95 226.2ZM212 217.85L213.85 219.7L212 221.55L210.15 219.7ZM214.7 229.25L216.55 231.1L214.7 232.95L212.85 231.1ZM217.6 223.65L219.45 225.5L217.6 227.35L215.75 225.5ZM220.7 229.95L222.55 231.8L220.7 233.65L218.85 231.8ZM223.4 217.85L225.25 219.7L223.4 221.55L221.55 219.7ZM226.7 226.75L228.55 228.6L226.7 230.45L224.85 228.6ZM229.1 214.95L230.95 216.8L229.1 218.65L227.25 216.8ZM232.5 217.85L234.35 219.7L232.5 221.55L230.65 219.7ZM235.4 224.05L237.25 225.9L235.4 227.75L233.55 225.9ZM238.1 227.75L239.95 229.6L238.1 231.45L236.25 229.6ZM240.9 225.25L242.75 227.1L240.9 228.95L239.05 227.1ZM244.3 221.15L246.15 223L244.3 224.85L242.45 223ZM245.8 215.55L247.65 217.4L245.8 219.25L243.95 217.4Z" fill="#2288bb"/>
<path d="M162.4 205.6V265.6" stroke="#111" stroke-width="1.3"/>
<path d="M161.8 252.3H247.8" stroke="#111" stroke-width="1.3"/>
<path d="M162.4 252.3V254.9M166.56 252.3V253.8M170.72 252.3V253.8M174.88 252.3V253.8M179.04 252.3V253.8M183.2 252.3V253.8M187.36 252.3V253.8M191.52 252.3V253.8M195.68 252.3V253.8M199.84 252.3V253.8M204 252.3V254.9M208.16 252.3V253.8M212.32 252.3V253.8M216.48 252.3V253.8M220.64 252.3V253.8M224.8 252.3V253.8M228.96 252.3V253.8M233.12 252.3V253.8M237.28 252.3V253.8M241.44 252.3V253.8M245.6 252.3V254.9M159.6 263.58H162.4M159.6 252.3H162.4M159.6 241.03H162.4M159.6 229.75H162.4M159.6 218.47H162.4M159.6 207.2H162.4M160.8 257.94H162.4M160.8 246.66H162.4M160.8 235.39H162.4M160.8 224.11H162.4M160.8 212.84H162.4" stroke="#111" stroke-width="0.7"/>
<text x="156.4" y="265.88" font-size="6.6" text-anchor="end" font-weight="normal" fill="#222" stroke="#222" stroke-width="0.15">-10</text>
<text x="156.4" y="254.6" font-size="6.6" text-anchor="end" font-weight="normal" fill="#222" stroke="#222" stroke-width="0.15">0</text>
<text x="156.4" y="243.33" font-size="6.6" text-anchor="end" font-weight="normal" fill="#222" stroke="#222" stroke-width="0.15">10</text>
<text x="156.4" y="232.05" font-size="6.6" text-anchor="end" font-weight="normal" fill="#222" stroke="#222" stroke-width="0.15">20</text>
<text x="156.4" y="220.78" font-size="6.6" text-anchor="end" font-weight="normal" fill="#222" stroke="#222" stroke-width="0.15">30</text>
<text x="156.4" y="209.5" font-size="6.6" text-anchor="end" font-weight="normal" fill="#222" stroke="#222" stroke-width="0.15">40</text>
<text x="204" y="263.3" font-size="6.6" text-anchor="middle" font-weight="normal" fill="#222" stroke="#222" stroke-width="0.15">50</text>
<text x="245.6" y="263.3" font-size="6.6" text-anchor="middle" font-weight="normal" fill="#222" stroke="#222" stroke-width="0.15">100</text>
<text x="205.7" y="280.4" font-size="8.4" text-anchor="middle" font-weight="bold" fill="#1a1a1a" textLength="11.5" lengthAdjust="spacingAndGlyphs" stroke="#1a1a1a" stroke-width="0.2">Days</text>
<text transform="translate(140.4 235.7) rotate(-90)" font-size="6.9" text-anchor="middle" font-weight="normal" fill="#1a1a1a" stroke="#1a1a1a" stroke-width="0.38" textLength="39.6" lengthAdjust="spacingAndGlyphs">% Improvement</text>
<text x="205.7" y="195.4" font-size="8.6" text-anchor="middle" font-weight="normal" fill="#111" textLength="89.4" lengthAdjust="spacingAndGlyphs" stroke="#111" stroke-width="0.18">Hemoglobin Improvement</text>
<path d="M38.4 338.7H65.4V342.9" stroke="#333" stroke-width="1.05" fill="none"/>
<text x="52.1" y="339.1" font-size="6.6" text-anchor="middle" font-weight="normal" fill="#111">**</text>
<polyline points="38.4,370.7 40.8,372.5 43.7,373.5 46.5,368.5 48.7,367.8 51.2,366.3 52.7,364.4 55.2,368.8 57.7,367.8 60.2,367.5 62.6,367.3 65.1,365.7 67.6,364.4 70.1,362.8 73.2,356.3 75.7,358.2 78,360.7 79.9,360.7 81.7,363.8 84.8,359.8 87.3,362.6 90.5,350.7 93.2,354.5 96.4,362 99.4,365.1 102.3,357.6 104.8,359.8 108.1,352.4 110.6,368.8 114.1,351.1 116,365.1 119.7,328.7 121.6,321.2" fill="none" stroke="#84d484" stroke-width="0.95" stroke-dasharray="1.5 0.8"/>
<path d="M38.4 369L40.1 370.7L38.4 372.4L36.7 370.7ZM40.8 370.8L42.5 372.5L40.8 374.2L39.1 372.5ZM43.7 371.8L45.4 373.5L43.7 375.2L42 373.5ZM46.5 366.8L48.2 368.5L46.5 370.2L44.8 368.5ZM48.7 366.1L50.4 367.8L48.7 369.5L47 367.8ZM51.2 364.6L52.9 366.3L51.2 368L49.5 366.3ZM52.7 362.7L54.4 364.4L52.7 366.1L51 364.4ZM55.2 367.1L56.9 368.8L55.2 370.5L53.5 368.8ZM57.7 366.1L59.4 367.8L57.7 369.5L56 367.8ZM60.2 365.8L61.9 367.5L60.2 369.2L58.5 367.5ZM62.6 365.6L64.3 367.3L62.6 369L60.9 367.3ZM65.1 364L66.8 365.7L65.1 367.4L63.4 365.7ZM67.6 362.7L69.3 364.4L67.6 366.1L65.9 364.4ZM70.1 361.1L71.8 362.8L70.1 364.5L68.4 362.8ZM73.2 354.6L74.9 356.3L73.2 358L71.5 356.3ZM75.7 356.5L77.4 358.2L75.7 359.9L74 358.2ZM78 359L79.7 360.7L78 362.4L76.3 360.7ZM79.9 359L81.6 360.7L79.9 362.4L78.2 360.7ZM81.7 362.1L83.4 363.8L81.7 365.5L80 363.8ZM84.8 358.1L86.5 359.8L84.8 361.5L83.1 359.8ZM87.3 360.9L89 362.6L87.3 364.3L85.6 362.6ZM90.5 349L92.2 350.7L90.5 352.4L88.8 350.7ZM93.2 352.8L94.9 354.5L93.2 356.2L91.5 354.5ZM96.4 360.3L98.1 362L96.4 363.7L94.7 362ZM99.4 363.4L101.1 365.1L99.4 366.8L97.7 365.1ZM102.3 355.9L104 357.6L102.3 359.3L100.6 357.6ZM104.8 358.1L106.5 359.8L104.8 361.5L103.1 359.8ZM108.1 350.7L109.8 352.4L108.1 354.1L106.4 352.4ZM110.6 367.1L112.3 368.8L110.6 370.5L108.9 368.8ZM114.1 349.4L115.8 351.1L114.1 352.8L112.4 351.1ZM116 363.4L117.7 365.1L116 366.8L114.3 365.1ZM119.7 327L121.4 328.7L119.7 330.4L118 328.7ZM121.6 319.5L123.3 321.2L121.6 322.9L119.9 321.2Z" fill="#cad9cc" stroke="#4f8257" stroke-width="1"/>
<polyline points="38.4,368.8 41.2,365.7 44,361.1 46.5,362 49.6,359.5 52.4,355.1 55.8,351.1 58.3,346.6 61.4,344.9 64.5,343.9 67.4,346.1 70.1,347 72.9,345.8 75.7,339.5 78,341.1 80.5,340.4 82.7,340.2 85.2,338.9 87.7,332.7 90.5,336.2 93.2,332.4 96.4,336.4 99.2,339.5 102.3,333.3 105.1,335.4 108.1,337.4 111,334.9 113.9,332.4 116.6,334.5 119.7,333.7 121.6,336.4" fill="none" stroke="#5ed65e" stroke-width="1.15" stroke-linejoin="round"/>
<path d="M38.4 366.95L40.25 368.8L38.4 370.65L36.55 368.8ZM41.2 363.85L43.05 365.7L41.2 367.55L39.35 365.7ZM44 359.25L45.85 361.1L44 362.95L42.15 361.1ZM46.5 360.15L48.35 362L46.5 363.85L44.65 362ZM49.6 357.65L51.45 359.5L49.6 361.35L47.75 359.5ZM52.4 353.25L54.25 355.1L52.4 356.95L50.55 355.1ZM55.8 349.25L57.65 351.1L55.8 352.95L53.95 351.1ZM58.3 344.75L60.15 346.6L58.3 348.45L56.45 346.6ZM61.4 343.05L63.25 344.9L61.4 346.75L59.55 344.9ZM64.5 342.05L66.35 343.9L64.5 345.75L62.65 343.9ZM67.4 344.25L69.25 346.1L67.4 347.95L65.55 346.1ZM70.1 345.15L71.95 347L70.1 348.85L68.25 347ZM72.9 343.95L74.75 345.8L72.9 347.65L71.05 345.8ZM75.7 337.65L77.55 339.5L75.7 341.35L73.85 339.5ZM78 339.25L79.85 341.1L78 342.95L76.15 341.1ZM80.5 338.55L82.35 340.4L80.5 342.25L78.65 340.4ZM82.7 338.35L84.55 340.2L82.7 342.05L80.85 340.2ZM85.2 337.05L87.05 338.9L85.2 340.75L83.35 338.9ZM87.7 330.85L89.55 332.7L87.7 334.55L85.85 332.7ZM90.5 334.35L92.35 336.2L90.5 338.05L88.65 336.2ZM93.2 330.55L95.05 332.4L93.2 334.25L91.35 332.4ZM96.4 334.55L98.25 336.4L96.4 338.25L94.55 336.4ZM99.2 337.65L101.05 339.5L99.2 341.35L97.35 339.5ZM102.3 331.45L104.15 333.3L102.3 335.15L100.45 333.3ZM105.1 333.55L106.95 335.4L105.1 337.25L103.25 335.4ZM108.1 335.55L109.95 337.4L108.1 339.25L106.25 337.4ZM111 333.05L112.85 334.9L111 336.75L109.15 334.9ZM113.9 330.55L115.75 332.4L113.9 334.25L112.05 332.4ZM116.6 332.65L118.45 334.5L116.6 336.35L114.75 334.5ZM119.7 331.85L121.55 333.7L119.7 335.55L117.85 333.7ZM121.6 334.55L123.45 336.4L121.6 338.25L119.75 336.4Z" fill="#1d6a2a"/>
<path d="M38.4 317.3V375.6" stroke="#111" stroke-width="1.3"/>
<path d="M37.8 375H123" stroke="#111" stroke-width="1.3"/>
<path d="M38.4 375V377.6M42.55 375V376.5M46.69 375V376.5M50.84 375V376.5M54.98 375V376.5M59.12 375V376.5M63.27 375V376.5M67.41 375V376.5M71.56 375V376.5M75.71 375V376.5M79.85 375V377.6M84 375V376.5M88.14 375V376.5M92.28 375V376.5M96.43 375V376.5M100.57 375V376.5M104.72 375V376.5M108.87 375V376.5M113.01 375V376.5M117.16 375V376.5M121.3 375V377.6M35.6 375H38.4M35.6 361.15H38.4M35.6 347.3H38.4M35.6 333.45H38.4M35.6 319.6H38.4M36.8 368.07H38.4M36.8 354.23H38.4M36.8 340.38H38.4M36.8 326.53H38.4" stroke="#111" stroke-width="0.7"/>
<text x="32.4" y="377.3" font-size="6.6" text-anchor="end" font-weight="normal" fill="#222" stroke="#222" stroke-width="0.15">0</text>
<text x="32.4" y="363.45" font-size="6.6" text-anchor="end" font-weight="normal" fill="#222" stroke="#222" stroke-width="0.15">100</text>
<text x="32.4" y="349.6" font-size="6.6" text-anchor="end" font-weight="normal" fill="#222" stroke="#222" stroke-width="0.15">200</text>
<text x="32.4" y="335.75" font-size="6.6" text-anchor="end" font-weight="normal" fill="#222" stroke="#222" stroke-width="0.15">300</text>
<text x="32.4" y="321.9" font-size="6.6" text-anchor="end" font-weight="normal" fill="#222" stroke="#222" stroke-width="0.15">400</text>
<text x="38.4" y="386.5" font-size="6.6" text-anchor="middle" font-weight="normal" fill="#222" stroke="#222" stroke-width="0.15">0</text>
<text x="79.85" y="386.5" font-size="6.6" text-anchor="middle" font-weight="normal" fill="#222" stroke="#222" stroke-width="0.15">50</text>
<text x="121.3" y="386.5" font-size="6.6" text-anchor="middle" font-weight="normal" fill="#222" stroke="#222" stroke-width="0.15">100</text>
<text x="81.5" y="397.6" font-size="8.4" text-anchor="middle" font-weight="bold" fill="#1a1a1a" textLength="11.5" lengthAdjust="spacingAndGlyphs" stroke="#1a1a1a" stroke-width="0.2">Days</text>
<text transform="translate(16.6 346.7) rotate(-90)" font-size="6.9" text-anchor="middle" font-weight="normal" fill="#1a1a1a" stroke="#1a1a1a" stroke-width="0.38" textLength="22.4" lengthAdjust="spacingAndGlyphs">K/microL</text>
<text x="81.6" y="306.9" font-size="8.6" text-anchor="middle" font-weight="normal" fill="#111" textLength="49.4" lengthAdjust="spacingAndGlyphs" stroke="#111" stroke-width="0.18">Platelet Count</text>
<path d="M162.7 342H189.4V346.1" stroke="#333" stroke-width="1.05" fill="none"/>
<text x="175.7" y="342.4" font-size="6.6" text-anchor="middle" font-weight="normal" fill="#111">**</text>
<polyline points="162.7,375 165.2,373.8 168.2,371.3 171.1,372.5 173.9,373.2 176.4,370.7 179.2,372.5 182.3,371.5 184.8,371.3 188.1,367.8 191.4,371 194.1,364.4 197.6,355.1 200.1,360.7 202.6,362.6 205.1,364.4 207,365.7 209.2,367.8 214.7,339.5 217.2,319.6 220.7,323.7 223.4,348 226.3,356.3 229.1,320.2 231.9,364.8 235,362.6 238.1,339.2 240,368.5 242.5,350 245.6,319.2" fill="none" stroke="#84d484" stroke-width="0.95" stroke-dasharray="1.5 0.8"/>
<path d="M162.7 373.3L164.4 375L162.7 376.7L161 375ZM165.2 372.1L166.9 373.8L165.2 375.5L163.5 373.8ZM168.2 369.6L169.9 371.3L168.2 373L166.5 371.3ZM171.1 370.8L172.8 372.5L171.1 374.2L169.4 372.5ZM173.9 371.5L175.6 373.2L173.9 374.9L172.2 373.2ZM176.4 369L178.1 370.7L176.4 372.4L174.7 370.7ZM179.2 370.8L180.9 372.5L179.2 374.2L177.5 372.5ZM182.3 369.8L184 371.5L182.3 373.2L180.6 371.5ZM184.8 369.6L186.5 371.3L184.8 373L183.1 371.3ZM188.1 366.1L189.8 367.8L188.1 369.5L186.4 367.8ZM191.4 369.3L193.1 371L191.4 372.7L189.7 371ZM194.1 362.7L195.8 364.4L194.1 366.1L192.4 364.4ZM197.6 353.4L199.3 355.1L197.6 356.8L195.9 355.1ZM200.1 359L201.8 360.7L200.1 362.4L198.4 360.7ZM202.6 360.9L204.3 362.6L202.6 364.3L200.9 362.6ZM205.1 362.7L206.8 364.4L205.1 366.1L203.4 364.4ZM207 364L208.7 365.7L207 367.4L205.3 365.7ZM209.2 366.1L210.9 367.8L209.2 369.5L207.5 367.8ZM214.7 337.8L216.4 339.5L214.7 341.2L213 339.5ZM217.2 317.9L218.9 319.6L217.2 321.3L215.5 319.6ZM220.7 322L222.4 323.7L220.7 325.4L219 323.7ZM223.4 346.3L225.1 348L223.4 349.7L221.7 348ZM226.3 354.6L228 356.3L226.3 358L224.6 356.3ZM229.1 318.5L230.8 320.2L229.1 321.9L227.4 320.2ZM231.9 363.1L233.6 364.8L231.9 366.5L230.2 364.8ZM235 360.9L236.7 362.6L235 364.3L233.3 362.6ZM238.1 337.5L239.8 339.2L238.1 340.9L236.4 339.2ZM240 366.8L241.7 368.5L240 370.2L238.3 368.5ZM242.5 348.3L244.2 350L242.5 351.7L240.8 350ZM245.6 317.5L247.3 319.2L245.6 320.9L243.9 319.2Z" fill="#cad9cc" stroke="#4f8257" stroke-width="1"/>
<polyline points="162.7,375 165.5,371.9 168,369.4 170.7,368.2 173.9,366.9 176.7,365.7 180.2,358.2 182.9,353.6 186,345.4 188.5,352.9 191.6,358.2 194.7,355.7 197.6,351.6 200.3,352 202.6,355.1 205.7,351.6 209.5,352.4 211.7,347 214.7,345.1 217.6,341.6 220.7,347.4 223.4,351.1 226.7,343.6 229.1,352 232.1,340.8 235,344.9 238.1,347.9 240.6,351.6 245.8,353.6" fill="none" stroke="#5ed65e" stroke-width="1.15" stroke-linejoin="round"/>
<path d="M162.7 373.15L164.55 375L162.7 376.85L160.85 375ZM165.5 370.05L167.35 371.9L165.5 373.75L163.65 371.9ZM168 367.55L169.85 369.4L168 371.25L166.15 369.4ZM170.7 366.35L172.55 368.2L170.7 370.05L168.85 368.2ZM173.9 365.05L175.75 366.9L173.9 368.75L172.05 366.9ZM176.7 363.85L178.55 365.7L176.7 367.55L174.85 365.7ZM180.2 356.35L182.05 358.2L180.2 360.05L178.35 358.2ZM182.9 351.75L184.75 353.6L182.9 355.45L181.05 353.6ZM186 343.55L187.85 345.4L186 347.25L184.15 345.4ZM188.5 351.05L190.35 352.9L188.5 354.75L186.65 352.9ZM191.6 356.35L193.45 358.2L191.6 360.05L189.75 358.2ZM194.7 353.85L196.55 355.7L194.7 357.55L192.85 355.7ZM197.6 349.75L199.45 351.6L197.6 353.45L195.75 351.6ZM200.3 350.15L202.15 352L200.3 353.85L198.45 352ZM202.6 353.25L204.45 355.1L202.6 356.95L200.75 355.1ZM205.7 349.75L207.55 351.6L205.7 353.45L203.85 351.6ZM209.5 350.55L211.35 352.4L209.5 354.25L207.65 352.4ZM211.7 345.15L213.55 347L211.7 348.85L209.85 347ZM214.7 343.25L216.55 345.1L214.7 346.95L212.85 345.1ZM217.6 339.75L219.45 341.6L217.6 343.45L215.75 341.6ZM220.7 345.55L222.55 347.4L220.7 349.25L218.85 347.4ZM223.4 349.25L225.25 351.1L223.4 352.95L221.55 351.1ZM226.7 341.75L228.55 343.6L226.7 345.45L224.85 343.6ZM229.1 350.15L230.95 352L229.1 353.85L227.25 352ZM232.1 338.95L233.95 340.8L232.1 342.65L230.25 340.8ZM235 343.05L236.85 344.9L235 346.75L233.15 344.9ZM238.1 346.05L239.95 347.9L238.1 349.75L236.25 347.9ZM240.6 349.75L242.45 351.6L240.6 353.45L238.75 351.6ZM245.8 351.75L247.65 353.6L245.8 355.45L243.95 353.6Z" fill="#1d6a2a"/>
<path d="M162.7 317.1V375.6" stroke="#111" stroke-width="1.3"/>
<path d="M162.1 375H248" stroke="#111" stroke-width="1.3"/>
<path d="M162.7 375V377.6M166.85 375V376.5M171.01 375V376.5M175.16 375V376.5M179.32 375V376.5M183.47 375V376.5M187.63 375V376.5M191.78 375V376.5M195.94 375V376.5M200.09 375V376.5M204.25 375V377.6M208.41 375V376.5M212.56 375V376.5M216.72 375V376.5M220.87 375V376.5M225.03 375V376.5M229.18 375V376.5M233.34 375V376.5M237.49 375V376.5M241.65 375V376.5M245.8 375V377.6M159.9 375H162.7M159.9 363.92H162.7M159.9 352.84H162.7M159.9 341.76H162.7M159.9 330.68H162.7M159.9 319.6H162.7M161.1 369.46H162.7M161.1 358.38H162.7M161.1 347.3H162.7M161.1 336.22H162.7M161.1 325.14H162.7" stroke="#111" stroke-width="0.7"/>
<text x="156.7" y="377.3" font-size="6.6" text-anchor="end" font-weight="normal" fill="#222" stroke="#222" stroke-width="0.15">0</text>
<text x="156.7" y="366.22" font-size="6.6" text-anchor="end" font-weight="normal" fill="#222" stroke="#222" stroke-width="0.15">200</text>
<text x="156.7" y="355.14" font-size="6.6" text-anchor="end" font-weight="normal" fill="#222" stroke="#222" stroke-width="0.15">400</text>
<text x="156.7" y="344.06" font-size="6.6" text-anchor="end" font-weight="normal" fill="#222" stroke="#222" stroke-width="0.15">600</text>
<text x="156.7" y="332.98" font-size="6.6" text-anchor="end" font-weight="normal" fill="#222" stroke="#222" stroke-width="0.15">800</text>
<text x="156.7" y="321.9" font-size="6.6" text-anchor="end" font-weight="normal" fill="#222" stroke="#222" stroke-width="0.15">1000</text>
<text x="162.7" y="386.5" font-size="6.6" text-anchor="middle" font-weight="normal" fill="#222" stroke="#222" stroke-width="0.15">0</text>
<text x="204.25" y="386.5" font-size="6.6" text-anchor="middle" font-weight="normal" fill="#222" stroke="#222" stroke-width="0.15">50</text>
<text x="245.8" y="386.5" font-size="6.6" text-anchor="middle" font-weight="normal" fill="#222" stroke="#222" stroke-width="0.15">100</text>
<text x="205.7" y="397.6" font-size="8.4" text-anchor="middle" font-weight="bold" fill="#1a1a1a" textLength="11.5" lengthAdjust="spacingAndGlyphs" stroke="#1a1a1a" stroke-width="0.2">Days</text>
<text transform="translate(136.4 345.8) rotate(-90)" font-size="6.9" text-anchor="middle" font-weight="normal" fill="#1a1a1a" stroke="#1a1a1a" stroke-width="0.38" textLength="40.3" lengthAdjust="spacingAndGlyphs">% Improvement</text>
<text x="205.8" y="301.8" font-size="8.6" text-anchor="middle" font-weight="normal" fill="#111" textLength="50" lengthAdjust="spacingAndGlyphs" stroke="#111" stroke-width="0.18">Platelet Count</text>
<text x="205.5" y="311.5" font-size="8.6" text-anchor="middle" font-weight="normal" fill="#111" textLength="45.6" lengthAdjust="spacingAndGlyphs" stroke="#111" stroke-width="0.18">Improvement</text>
<path d="M38.4 450.9H65.1V454.6" stroke="#333" stroke-width="1.05" fill="none"/>
<text x="51.7" y="451.2" font-size="6.6" text-anchor="middle" font-weight="normal" fill="#111">**</text>
<polyline points="38.4,465 40.8,470.8 43.7,478.3 46.5,477.8 49.9,473.1 52.4,479 55.8,474.1 58.7,465.3 61.6,468.1 64.1,474.3 67.4,461.6 70.1,470 73.6,467.1 76.1,459.1 78.7,471.6 81.5,470.8 84.2,471.6 87.3,472.4 90.5,464.1 93.2,467.1 96.7,475.8 99.4,476.8 102.7,467.1 104.8,478 108.1,473.3 111,477 114.1,467.1 116,476.8 121.6,465" fill="none" stroke="#c0a8d8" stroke-width="0.95" stroke-dasharray="1.5 0.8"/>
<path d="M38.4 463.3L40.1 465L38.4 466.7L36.7 465ZM40.8 469.1L42.5 470.8L40.8 472.5L39.1 470.8ZM43.7 476.6L45.4 478.3L43.7 480L42 478.3ZM46.5 476.1L48.2 477.8L46.5 479.5L44.8 477.8ZM49.9 471.4L51.6 473.1L49.9 474.8L48.2 473.1ZM52.4 477.3L54.1 479L52.4 480.7L50.7 479ZM55.8 472.4L57.5 474.1L55.8 475.8L54.1 474.1ZM58.7 463.6L60.4 465.3L58.7 467L57 465.3ZM61.6 466.4L63.3 468.1L61.6 469.8L59.9 468.1ZM64.1 472.6L65.8 474.3L64.1 476L62.4 474.3ZM67.4 459.9L69.1 461.6L67.4 463.3L65.7 461.6ZM70.1 468.3L71.8 470L70.1 471.7L68.4 470ZM73.6 465.4L75.3 467.1L73.6 468.8L71.9 467.1ZM76.1 457.4L77.8 459.1L76.1 460.8L74.4 459.1ZM78.7 469.9L80.4 471.6L78.7 473.3L77 471.6ZM81.5 469.1L83.2 470.8L81.5 472.5L79.8 470.8ZM84.2 469.9L85.9 471.6L84.2 473.3L82.5 471.6ZM87.3 470.7L89 472.4L87.3 474.1L85.6 472.4ZM90.5 462.4L92.2 464.1L90.5 465.8L88.8 464.1ZM93.2 465.4L94.9 467.1L93.2 468.8L91.5 467.1ZM96.7 474.1L98.4 475.8L96.7 477.5L95 475.8ZM99.4 475.1L101.1 476.8L99.4 478.5L97.7 476.8ZM102.7 465.4L104.4 467.1L102.7 468.8L101 467.1ZM104.8 476.3L106.5 478L104.8 479.7L103.1 478ZM108.1 471.6L109.8 473.3L108.1 475L106.4 473.3ZM111 475.3L112.7 477L111 478.7L109.3 477ZM114.1 465.4L115.8 467.1L114.1 468.8L112.4 467.1ZM116 475.1L117.7 476.8L116 478.5L114.3 476.8ZM121.6 463.3L123.3 465L121.6 466.7L119.9 465Z" fill="#d7cfdd" stroke="#7a6190" stroke-width="1"/>
<polyline points="38.4,460.6 40.8,466.8 44,465.8 46.5,466.2 49.6,467.1 52.4,465 55.8,457.5 58.7,460.9 61.6,453.8 64.1,461.9 67,457.5 70.1,454.6 73.2,448.4 76.1,451.6 78.9,447.3 81.7,450.9 84.8,445 87.7,449.1 90.7,450.4 93.6,446.9 96.7,452.5 99.4,449.1 102.3,445 105.1,446.3 108.1,448.4 111,443.4 114.1,441.9 116,440.1 121.8,441.7" fill="none" stroke="#74348a" stroke-width="1.15" stroke-linejoin="round"/>
<path d="M38.4 458.75L40.25 460.6L38.4 462.45L36.55 460.6ZM40.8 464.95L42.65 466.8L40.8 468.65L38.95 466.8ZM44 463.95L45.85 465.8L44 467.65L42.15 465.8ZM46.5 464.35L48.35 466.2L46.5 468.05L44.65 466.2ZM49.6 465.25L51.45 467.1L49.6 468.95L47.75 467.1ZM52.4 463.15L54.25 465L52.4 466.85L50.55 465ZM55.8 455.65L57.65 457.5L55.8 459.35L53.95 457.5ZM58.7 459.05L60.55 460.9L58.7 462.75L56.85 460.9ZM61.6 451.95L63.45 453.8L61.6 455.65L59.75 453.8ZM64.1 460.05L65.95 461.9L64.1 463.75L62.25 461.9ZM67 455.65L68.85 457.5L67 459.35L65.15 457.5ZM70.1 452.75L71.95 454.6L70.1 456.45L68.25 454.6ZM73.2 446.55L75.05 448.4L73.2 450.25L71.35 448.4ZM76.1 449.75L77.95 451.6L76.1 453.45L74.25 451.6ZM78.9 445.45L80.75 447.3L78.9 449.15L77.05 447.3ZM81.7 449.05L83.55 450.9L81.7 452.75L79.85 450.9ZM84.8 443.15L86.65 445L84.8 446.85L82.95 445ZM87.7 447.25L89.55 449.1L87.7 450.95L85.85 449.1ZM90.7 448.55L92.55 450.4L90.7 452.25L88.85 450.4ZM93.6 445.05L95.45 446.9L93.6 448.75L91.75 446.9ZM96.7 450.65L98.55 452.5L96.7 454.35L94.85 452.5ZM99.4 447.25L101.25 449.1L99.4 450.95L97.55 449.1ZM102.3 443.15L104.15 445L102.3 446.85L100.45 445ZM105.1 444.45L106.95 446.3L105.1 448.15L103.25 446.3ZM108.1 446.55L109.95 448.4L108.1 450.25L106.25 448.4ZM111 441.55L112.85 443.4L111 445.25L109.15 443.4ZM114.1 440.05L115.95 441.9L114.1 443.75L112.25 441.9ZM116 438.25L117.85 440.1L116 441.95L114.15 440.1ZM121.8 439.85L123.65 441.7L121.8 443.55L119.95 441.7Z" fill="#2c0c36"/>
<path d="M38.4 424.2V483" stroke="#111" stroke-width="1.3"/>
<path d="M37.8 482.4H123" stroke="#111" stroke-width="1.3"/>
<path d="M38.4 482.4V485M42.55 482.4V483.9M46.69 482.4V483.9M50.84 482.4V483.9M54.98 482.4V483.9M59.12 482.4V483.9M63.27 482.4V483.9M67.41 482.4V483.9M71.56 482.4V483.9M75.71 482.4V483.9M79.85 482.4V485M84 482.4V483.9M88.14 482.4V483.9M92.28 482.4V483.9M96.43 482.4V483.9M100.57 482.4V483.9M104.72 482.4V483.9M108.87 482.4V483.9M113.01 482.4V483.9M117.16 482.4V483.9M121.3 482.4V485M35.6 482.4H38.4M35.6 468.6H38.4M35.6 454.8H38.4M35.6 441H38.4M35.6 427.2H38.4M36.8 475.5H38.4M36.8 461.7H38.4M36.8 447.9H38.4M36.8 434.1H38.4" stroke="#111" stroke-width="0.7"/>
<text x="32.4" y="484.7" font-size="6.6" text-anchor="end" font-weight="normal" fill="#222" stroke="#222" stroke-width="0.15">0</text>
<text x="32.4" y="470.9" font-size="6.6" text-anchor="end" font-weight="normal" fill="#222" stroke="#222" stroke-width="0.15">1</text>
<text x="32.4" y="457.1" font-size="6.6" text-anchor="end" font-weight="normal" fill="#222" stroke="#222" stroke-width="0.15">2</text>
<text x="32.4" y="443.3" font-size="6.6" text-anchor="end" font-weight="normal" fill="#222" stroke="#222" stroke-width="0.15">3</text>
<text x="32.4" y="429.5" font-size="6.6" text-anchor="end" font-weight="normal" fill="#222" stroke="#222" stroke-width="0.15">4</text>
<text x="38.4" y="493.9" font-size="6.6" text-anchor="middle" font-weight="normal" fill="#222" stroke="#222" stroke-width="0.15">0</text>
<text x="79.85" y="493.9" font-size="6.6" text-anchor="middle" font-weight="normal" fill="#222" stroke="#222" stroke-width="0.15">50</text>
<text x="121.3" y="493.9" font-size="6.6" text-anchor="middle" font-weight="normal" fill="#222" stroke="#222" stroke-width="0.15">100</text>
<text x="81.5" y="505.4" font-size="8.4" text-anchor="middle" font-weight="bold" fill="#1a1a1a" textLength="11.5" lengthAdjust="spacingAndGlyphs" stroke="#1a1a1a" stroke-width="0.2">Days</text>
<text transform="translate(23.9 453.7) rotate(-90)" font-size="6.9" text-anchor="middle" font-weight="normal" fill="#1a1a1a" stroke="#1a1a1a" stroke-width="0.38" textLength="22.4" lengthAdjust="spacingAndGlyphs">K/microL</text>
<text x="81.7" y="419.2" font-size="8.6" text-anchor="middle" font-weight="normal" fill="#111" textLength="15.1" lengthAdjust="spacingAndGlyphs" stroke="#111" stroke-width="0.18">ALC</text>
<path d="M162.7 449H189.4V453.4" stroke="#333" stroke-width="1.05" fill="none"/>
<text x="176.3" y="449.4" font-size="6.6" text-anchor="middle" font-weight="normal" fill="#111">**</text>
<polyline points="162.7,459.4 165.2,473.1 168.2,476.4 170.7,480.8 173.9,476.8 176.7,484.8 179.8,480.2 182.9,476.4 185.6,471.1 188.5,476.4 191.4,471.1 194.4,465.6 197.6,480.8 200.3,468.3 202.3,480.5 204.5,479.8 206.7,480.2 209.2,481.8 211.7,482.3 214.5,481.4 217.2,478.1 220.1,478.9 223.8,480.2 226.7,479.8 229.1,476.8 232.5,480.8 235.4,479.3 238.1,467.7 240.6,474.8 244.3,480.2 245.6,487" fill="none" stroke="#c0a8d8" stroke-width="0.95" stroke-dasharray="1.5 0.8"/>
<path d="M162.7 457.7L164.4 459.4L162.7 461.1L161 459.4ZM165.2 471.4L166.9 473.1L165.2 474.8L163.5 473.1ZM168.2 474.7L169.9 476.4L168.2 478.1L166.5 476.4ZM170.7 479.1L172.4 480.8L170.7 482.5L169 480.8ZM173.9 475.1L175.6 476.8L173.9 478.5L172.2 476.8ZM176.7 483.1L178.4 484.8L176.7 486.5L175 484.8ZM179.8 478.5L181.5 480.2L179.8 481.9L178.1 480.2ZM182.9 474.7L184.6 476.4L182.9 478.1L181.2 476.4ZM185.6 469.4L187.3 471.1L185.6 472.8L183.9 471.1ZM188.5 474.7L190.2 476.4L188.5 478.1L186.8 476.4ZM191.4 469.4L193.1 471.1L191.4 472.8L189.7 471.1ZM194.4 463.9L196.1 465.6L194.4 467.3L192.7 465.6ZM197.6 479.1L199.3 480.8L197.6 482.5L195.9 480.8ZM200.3 466.6L202 468.3L200.3 470L198.6 468.3ZM202.3 478.8L204 480.5L202.3 482.2L200.6 480.5ZM204.5 478.1L206.2 479.8L204.5 481.5L202.8 479.8ZM206.7 478.5L208.4 480.2L206.7 481.9L205 480.2ZM209.2 480.1L210.9 481.8L209.2 483.5L207.5 481.8ZM211.7 480.6L213.4 482.3L211.7 484L210 482.3ZM214.5 479.7L216.2 481.4L214.5 483.1L212.8 481.4ZM217.2 476.4L218.9 478.1L217.2 479.8L215.5 478.1ZM220.1 477.2L221.8 478.9L220.1 480.6L218.4 478.9ZM223.8 478.5L225.5 480.2L223.8 481.9L222.1 480.2ZM226.7 478.1L228.4 479.8L226.7 481.5L225 479.8ZM229.1 475.1L230.8 476.8L229.1 478.5L227.4 476.8ZM232.5 479.1L234.2 480.8L232.5 482.5L230.8 480.8ZM235.4 477.6L237.1 479.3L235.4 481L233.7 479.3ZM238.1 466L239.8 467.7L238.1 469.4L236.4 467.7ZM240.6 473.1L242.3 474.8L240.6 476.5L238.9 474.8ZM244.3 478.5L246 480.2L244.3 481.9L242.6 480.2ZM245.6 485.3L247.3 487L245.6 488.7L243.9 487Z" fill="#d7cfdd" stroke="#7a6190" stroke-width="1"/>
<polyline points="162.7,459.4 165.2,470.2 168,464.9 170.7,467.7 173.9,463.6 176.7,462.1 179.8,453.6 182.9,452.8 185.6,451.9 188.1,465.9 191.4,456.1 194.1,456.5 197.6,449.4 200.1,446.2 202.4,448.5 204.5,448.4 206.7,448.4 209.2,446.9 211.7,450.7 215.1,454.9 217.6,452.8 220.7,456.1 226.7,449.4 229.4,452.4 232.5,450.9 235,440 238.4,445.7 240.4,442.4 244.6,454.9 246.2,449.4" fill="none" stroke="#74348a" stroke-width="1.15" stroke-linejoin="round"/>
<path d="M162.7 457.55L164.55 459.4L162.7 461.25L160.85 459.4ZM165.2 468.35L167.05 470.2L165.2 472.05L163.35 470.2ZM168 463.05L169.85 464.9L168 466.75L166.15 464.9ZM170.7 465.85L172.55 467.7L170.7 469.55L168.85 467.7ZM173.9 461.75L175.75 463.6L173.9 465.45L172.05 463.6ZM176.7 460.25L178.55 462.1L176.7 463.95L174.85 462.1ZM179.8 451.75L181.65 453.6L179.8 455.45L177.95 453.6ZM182.9 450.95L184.75 452.8L182.9 454.65L181.05 452.8ZM185.6 450.05L187.45 451.9L185.6 453.75L183.75 451.9ZM188.1 464.05L189.95 465.9L188.1 467.75L186.25 465.9ZM191.4 454.25L193.25 456.1L191.4 457.95L189.55 456.1ZM194.1 454.65L195.95 456.5L194.1 458.35L192.25 456.5ZM197.6 447.55L199.45 449.4L197.6 451.25L195.75 449.4ZM200.1 444.35L201.95 446.2L200.1 448.05L198.25 446.2ZM202.4 446.65L204.25 448.5L202.4 450.35L200.55 448.5ZM204.5 446.55L206.35 448.4L204.5 450.25L202.65 448.4ZM206.7 446.55L208.55 448.4L206.7 450.25L204.85 448.4ZM209.2 445.05L211.05 446.9L209.2 448.75L207.35 446.9ZM211.7 448.85L213.55 450.7L211.7 452.55L209.85 450.7ZM215.1 453.05L216.95 454.9L215.1 456.75L213.25 454.9ZM217.6 450.95L219.45 452.8L217.6 454.65L215.75 452.8ZM220.7 454.25L222.55 456.1L220.7 457.95L218.85 456.1ZM226.7 447.55L228.55 449.4L226.7 451.25L224.85 449.4ZM229.4 450.55L231.25 452.4L229.4 454.25L227.55 452.4ZM232.5 449.05L234.35 450.9L232.5 452.75L230.65 450.9ZM235 438.15L236.85 440L235 441.85L233.15 440ZM238.4 443.85L240.25 445.7L238.4 447.55L236.55 445.7ZM240.4 440.55L242.25 442.4L240.4 444.25L238.55 442.4ZM244.6 453.05L246.45 454.9L244.6 456.75L242.75 454.9ZM246.2 447.55L248.05 449.4L246.2 451.25L244.35 449.4Z" fill="#2c0c36"/>
<path d="M162.7 430V490.1" stroke="#111" stroke-width="1.3"/>
<path d="M162.1 459.4H247.8" stroke="#111" stroke-width="1.3"/>
<path d="M162.7 459.4V462M166.84 459.4V460.9M170.99 459.4V460.9M175.13 459.4V460.9M179.28 459.4V460.9M183.42 459.4V460.9M187.57 459.4V460.9M191.71 459.4V460.9M195.86 459.4V460.9M200 459.4V460.9M204.15 459.4V462M208.29 459.4V460.9M212.44 459.4V460.9M216.58 459.4V460.9M220.73 459.4V460.9M224.88 459.4V460.9M229.02 459.4V460.9M233.16 459.4V460.9M237.31 459.4V460.9M241.45 459.4V460.9M245.6 459.4V462M159.9 481.8H162.7M159.9 474.33H162.7M159.9 466.87H162.7M159.9 459.4H162.7M159.9 451.93H162.7M159.9 444.47H162.7M159.9 437H162.7" stroke="#111" stroke-width="0.7"/>
<text x="156.7" y="484.1" font-size="6.6" text-anchor="end" font-weight="normal" fill="#222" stroke="#222" stroke-width="0.15">-75</text>
<text x="156.7" y="476.63" font-size="6.6" text-anchor="end" font-weight="normal" fill="#222" stroke="#222" stroke-width="0.15">-50</text>
<text x="156.7" y="469.17" font-size="6.6" text-anchor="end" font-weight="normal" fill="#222" stroke="#222" stroke-width="0.15">-25</text>
<text x="156.7" y="461.7" font-size="6.6" text-anchor="end" font-weight="normal" fill="#222" stroke="#222" stroke-width="0.15">0</text>
<text x="156.7" y="454.23" font-size="6.6" text-anchor="end" font-weight="normal" fill="#222" stroke="#222" stroke-width="0.15">25</text>
<text x="156.7" y="446.77" font-size="6.6" text-anchor="end" font-weight="normal" fill="#222" stroke="#222" stroke-width="0.15">50</text>
<text x="156.7" y="439.3" font-size="6.6" text-anchor="end" font-weight="normal" fill="#222" stroke="#222" stroke-width="0.15">75</text>
<text x="204.15" y="469.6" font-size="6.6" text-anchor="middle" font-weight="normal" fill="#222" stroke="#222" stroke-width="0.15">50</text>
<text x="245.6" y="469.6" font-size="6.6" text-anchor="middle" font-weight="normal" fill="#222" stroke="#222" stroke-width="0.15">100</text>
<text x="205.7" y="505.4" font-size="8.4" text-anchor="middle" font-weight="bold" fill="#1a1a1a" textLength="11.5" lengthAdjust="spacingAndGlyphs" stroke="#1a1a1a" stroke-width="0.2">Days</text>
<text transform="translate(140.4 458) rotate(-90)" font-size="6.9" text-anchor="middle" font-weight="normal" fill="#1a1a1a" stroke="#1a1a1a" stroke-width="0.38" textLength="37" lengthAdjust="spacingAndGlyphs">% Improvement</text>
<text x="205.6" y="419.4" font-size="8.6" text-anchor="middle" font-weight="normal" fill="#111" textLength="62.5" lengthAdjust="spacingAndGlyphs" stroke="#111" stroke-width="0.18">ALC Improvement</text>
<path d="M295 209.4H322.4V213.4" stroke="#333" stroke-width="1.05" fill="none"/>
<text x="308.7" y="209.4" font-size="6.6" text-anchor="middle" font-weight="normal" fill="#111">****</text>
<polyline points="295,222.2 297.5,212.8 300.7,218.7 303.5,235.6 306.6,237.3 309.4,243.1 312.4,230.6 315.3,240.8 318.1,229.6 321.1,240.2 324,249.8 327.1,248.6 329.9,235.6 332.7,229.9 335.6,231.8 338.8,232.4 341.8,234.4 344.3,242.1 347.5,229 350,218.4 353.4,214.9 355.9,210 359.3,239.8 361.4,218.4 364.9,221.5 367.6,234.6 371.1,233.4 372.4,239 376.7,244.6 378.3,226.1" fill="none" stroke="#f393c0" stroke-width="0.95" stroke-dasharray="1.5 0.8"/>
<path d="M295 220.5L296.7 222.2L295 223.9L293.3 222.2ZM297.5 211.1L299.2 212.8L297.5 214.5L295.8 212.8ZM300.7 217L302.4 218.7L300.7 220.4L299 218.7ZM303.5 233.9L305.2 235.6L303.5 237.3L301.8 235.6ZM306.6 235.6L308.3 237.3L306.6 239L304.9 237.3ZM309.4 241.4L311.1 243.1L309.4 244.8L307.7 243.1ZM312.4 228.9L314.1 230.6L312.4 232.3L310.7 230.6ZM315.3 239.1L317 240.8L315.3 242.5L313.6 240.8ZM318.1 227.9L319.8 229.6L318.1 231.3L316.4 229.6ZM321.1 238.5L322.8 240.2L321.1 241.9L319.4 240.2ZM324 248.1L325.7 249.8L324 251.5L322.3 249.8ZM327.1 246.9L328.8 248.6L327.1 250.3L325.4 248.6ZM329.9 233.9L331.6 235.6L329.9 237.3L328.2 235.6ZM332.7 228.2L334.4 229.9L332.7 231.6L331 229.9ZM335.6 230.1L337.3 231.8L335.6 233.5L333.9 231.8ZM338.8 230.7L340.5 232.4L338.8 234.1L337.1 232.4ZM341.8 232.7L343.5 234.4L341.8 236.1L340.1 234.4ZM344.3 240.4L346 242.1L344.3 243.8L342.6 242.1ZM347.5 227.3L349.2 229L347.5 230.7L345.8 229ZM350 216.7L351.7 218.4L350 220.1L348.3 218.4ZM353.4 213.2L355.1 214.9L353.4 216.6L351.7 214.9ZM355.9 208.3L357.6 210L355.9 211.7L354.2 210ZM359.3 238.1L361 239.8L359.3 241.5L357.6 239.8ZM361.4 216.7L363.1 218.4L361.4 220.1L359.7 218.4ZM364.9 219.8L366.6 221.5L364.9 223.2L363.2 221.5ZM367.6 232.9L369.3 234.6L367.6 236.3L365.9 234.6ZM371.1 231.7L372.8 233.4L371.1 235.1L369.4 233.4ZM372.4 237.3L374.1 239L372.4 240.7L370.7 239ZM376.7 242.9L378.4 244.6L376.7 246.3L375 244.6ZM378.3 224.4L380 226.1L378.3 227.8L376.6 226.1Z" fill="#eec5d8" stroke="#c8407f" stroke-width="1"/>
<polyline points="295,251.8 297.5,252 300.7,250.2 303.5,246.8 306.6,247.3 309.4,244.3 312.4,252 315.3,247.3 318.1,247.1 321.1,247.1 324,244.8 326.9,248.6 329.9,246.4 332.7,249.3 335.7,250.8 338.8,250.8 341.8,250.8 344.7,252 347.5,253.9 350.2,252 353.4,253.5 355.9,251.8 358.9,248.3 361.8,248.6 364.9,257 367.6,252.3 371.1,249.8 373.9,250.8 376.7,253.9 378.6,251.8" fill="none" stroke="#e8358a" stroke-width="1.15" stroke-linejoin="round"/>
<path d="M295 249.95L296.85 251.8L295 253.65L293.15 251.8ZM297.5 250.15L299.35 252L297.5 253.85L295.65 252ZM300.7 248.35L302.55 250.2L300.7 252.05L298.85 250.2ZM303.5 244.95L305.35 246.8L303.5 248.65L301.65 246.8ZM306.6 245.45L308.45 247.3L306.6 249.15L304.75 247.3ZM309.4 242.45L311.25 244.3L309.4 246.15L307.55 244.3ZM312.4 250.15L314.25 252L312.4 253.85L310.55 252ZM315.3 245.45L317.15 247.3L315.3 249.15L313.45 247.3ZM318.1 245.25L319.95 247.1L318.1 248.95L316.25 247.1ZM321.1 245.25L322.95 247.1L321.1 248.95L319.25 247.1ZM324 242.95L325.85 244.8L324 246.65L322.15 244.8ZM326.9 246.75L328.75 248.6L326.9 250.45L325.05 248.6ZM329.9 244.55L331.75 246.4L329.9 248.25L328.05 246.4ZM332.7 247.45L334.55 249.3L332.7 251.15L330.85 249.3ZM335.7 248.95L337.55 250.8L335.7 252.65L333.85 250.8ZM338.8 248.95L340.65 250.8L338.8 252.65L336.95 250.8ZM341.8 248.95L343.65 250.8L341.8 252.65L339.95 250.8ZM344.7 250.15L346.55 252L344.7 253.85L342.85 252ZM347.5 252.05L349.35 253.9L347.5 255.75L345.65 253.9ZM350.2 250.15L352.05 252L350.2 253.85L348.35 252ZM353.4 251.65L355.25 253.5L353.4 255.35L351.55 253.5ZM355.9 249.95L357.75 251.8L355.9 253.65L354.05 251.8ZM358.9 246.45L360.75 248.3L358.9 250.15L357.05 248.3ZM361.8 246.75L363.65 248.6L361.8 250.45L359.95 248.6ZM364.9 255.15L366.75 257L364.9 258.85L363.05 257ZM367.6 250.45L369.45 252.3L367.6 254.15L365.75 252.3ZM371.1 247.95L372.95 249.8L371.1 251.65L369.25 249.8ZM373.9 248.95L375.75 250.8L373.9 252.65L372.05 250.8ZM376.7 252.05L378.55 253.9L376.7 255.75L374.85 253.9ZM378.6 249.95L380.45 251.8L378.6 253.65L376.75 251.8Z" fill="#b30f55"/>
<path d="M295 199.5V257.9" stroke="#111" stroke-width="1.3"/>
<path d="M294.4 257.3H380.5" stroke="#111" stroke-width="1.3"/>
<path d="M295 257.3V259.9M299.17 257.3V258.8M303.34 257.3V258.8M307.51 257.3V258.8M311.68 257.3V258.8M315.85 257.3V258.8M320.02 257.3V258.8M324.19 257.3V258.8M328.36 257.3V258.8M332.53 257.3V258.8M336.7 257.3V259.9M340.87 257.3V258.8M345.04 257.3V258.8M349.21 257.3V258.8M353.38 257.3V258.8M357.55 257.3V258.8M361.72 257.3V258.8M365.89 257.3V258.8M370.06 257.3V258.8M374.23 257.3V258.8M378.4 257.3V259.9M292.2 257.3H295M292.2 238.87H295M292.2 220.43H295M292.2 202H295M293.4 248.08H295M293.4 229.65H295M293.4 211.22H295" stroke="#111" stroke-width="0.7"/>
<text x="289" y="259.6" font-size="6.6" text-anchor="end" font-weight="normal" fill="#222" stroke="#222" stroke-width="0.15">10</text>
<text x="289" y="241.17" font-size="6.6" text-anchor="end" font-weight="normal" fill="#222" stroke="#222" stroke-width="0.15">20</text>
<text x="289" y="222.73" font-size="6.6" text-anchor="end" font-weight="normal" fill="#222" stroke="#222" stroke-width="0.15">30</text>
<text x="289" y="204.3" font-size="6.6" text-anchor="end" font-weight="normal" fill="#222" stroke="#222" stroke-width="0.15">40</text>
<text x="295" y="268.8" font-size="6.6" text-anchor="middle" font-weight="normal" fill="#222" stroke="#222" stroke-width="0.15">0</text>
<text x="336.7" y="268.8" font-size="6.6" text-anchor="middle" font-weight="normal" fill="#222" stroke="#222" stroke-width="0.15">50</text>
<text x="378.4" y="268.8" font-size="6.6" text-anchor="middle" font-weight="normal" fill="#222" stroke="#222" stroke-width="0.15">100</text>
<text x="338.5" y="280.4" font-size="8.4" text-anchor="middle" font-weight="bold" fill="#1a1a1a" textLength="11.5" lengthAdjust="spacingAndGlyphs" stroke="#1a1a1a" stroke-width="0.2">Days</text>
<text transform="translate(276 229) rotate(-90)" font-size="6.9" text-anchor="middle" font-weight="normal" fill="#1a1a1a" stroke="#1a1a1a" stroke-width="0.38" textLength="16.5" lengthAdjust="spacingAndGlyphs">mg/dL</text>
<text x="338.2" y="194.8" font-size="8.6" text-anchor="middle" font-weight="normal" fill="#111" textLength="17.9" lengthAdjust="spacingAndGlyphs" stroke="#111" stroke-width="0.18">BUN</text>
<path d="M421.4 216.2H448.4V220.5" stroke="#333" stroke-width="1.05" fill="none"/>
<text x="435" y="215.6" font-size="6.6" text-anchor="middle" font-weight="normal" fill="#222">ns</text>
<polyline points="421.4,233 423.8,254.2 427.2,257.9 429.7,228.9 432.9,220.2 435.7,230.5 438.4,236.4 441.7,223 444.1,233 447.1,223 450.4,220.9 453.1,217.2 456.6,230.1 459.1,226.4 461.6,236.7 464.7,211 467.8,219.9 471,216.2 474.1,225.5 476.6,241.7 479.7,254.2 482.4,259.5 485.7,216.2 488.4,237.1 491.5,246.3 494.4,232.6 497.4,218.7 499.6,222.7 503.3,214.7 504.8,235.5" fill="none" stroke="#f393c0" stroke-width="0.95" stroke-dasharray="1.5 0.8"/>
<path d="M421.4 231.3L423.1 233L421.4 234.7L419.7 233ZM423.8 252.5L425.5 254.2L423.8 255.9L422.1 254.2ZM427.2 256.2L428.9 257.9L427.2 259.6L425.5 257.9ZM429.7 227.2L431.4 228.9L429.7 230.6L428 228.9ZM432.9 218.5L434.6 220.2L432.9 221.9L431.2 220.2ZM435.7 228.8L437.4 230.5L435.7 232.2L434 230.5ZM438.4 234.7L440.1 236.4L438.4 238.1L436.7 236.4ZM441.7 221.3L443.4 223L441.7 224.7L440 223ZM444.1 231.3L445.8 233L444.1 234.7L442.4 233ZM447.1 221.3L448.8 223L447.1 224.7L445.4 223ZM450.4 219.2L452.1 220.9L450.4 222.6L448.7 220.9ZM453.1 215.5L454.8 217.2L453.1 218.9L451.4 217.2ZM456.6 228.4L458.3 230.1L456.6 231.8L454.9 230.1ZM459.1 224.7L460.8 226.4L459.1 228.1L457.4 226.4ZM461.6 235L463.3 236.7L461.6 238.4L459.9 236.7ZM464.7 209.3L466.4 211L464.7 212.7L463 211ZM467.8 218.2L469.5 219.9L467.8 221.6L466.1 219.9ZM471 214.5L472.7 216.2L471 217.9L469.3 216.2ZM474.1 223.8L475.8 225.5L474.1 227.2L472.4 225.5ZM476.6 240L478.3 241.7L476.6 243.4L474.9 241.7ZM479.7 252.5L481.4 254.2L479.7 255.9L478 254.2ZM482.4 257.8L484.1 259.5L482.4 261.2L480.7 259.5ZM485.7 214.5L487.4 216.2L485.7 217.9L484 216.2ZM488.4 235.4L490.1 237.1L488.4 238.8L486.7 237.1ZM491.5 244.6L493.2 246.3L491.5 248L489.8 246.3ZM494.4 230.9L496.1 232.6L494.4 234.3L492.7 232.6ZM497.4 217L499.1 218.7L497.4 220.4L495.7 218.7ZM499.6 221L501.3 222.7L499.6 224.4L497.9 222.7ZM503.3 213L505 214.7L503.3 216.4L501.6 214.7ZM504.8 233.8L506.5 235.5L504.8 237.2L503.1 235.5Z" fill="#eec5d8" stroke="#c8407f" stroke-width="1"/>
<polyline points="421.4,233 423.8,236.1 426.7,237.6 429.5,239.9 432.9,241.7 435.7,228.6 438.8,228.9 441.7,232.6 444.6,251.3 447.1,230.9 450.6,237.1 453.4,236.1 456.6,236.4 459.1,223.4 461.8,230.1 462.9,235.1 465.7,235.9 468.2,235.1 471,230.9 474.1,233 476.6,228.6 479.7,220.5 482.4,224.3 485.3,221.8 488.1,222.7 491.1,217.4 494.4,223 497.4,228 500.6,227.6 503.3,229.6 504.6,225.5" fill="none" stroke="#e8358a" stroke-width="1.15" stroke-linejoin="round"/>
<path d="M421.4 231.15L423.25 233L421.4 234.85L419.55 233ZM423.8 234.25L425.65 236.1L423.8 237.95L421.95 236.1ZM426.7 235.75L428.55 237.6L426.7 239.45L424.85 237.6ZM429.5 238.05L431.35 239.9L429.5 241.75L427.65 239.9ZM432.9 239.85L434.75 241.7L432.9 243.55L431.05 241.7ZM435.7 226.75L437.55 228.6L435.7 230.45L433.85 228.6ZM438.8 227.05L440.65 228.9L438.8 230.75L436.95 228.9ZM441.7 230.75L443.55 232.6L441.7 234.45L439.85 232.6ZM444.6 249.45L446.45 251.3L444.6 253.15L442.75 251.3ZM447.1 229.05L448.95 230.9L447.1 232.75L445.25 230.9ZM450.6 235.25L452.45 237.1L450.6 238.95L448.75 237.1ZM453.4 234.25L455.25 236.1L453.4 237.95L451.55 236.1ZM456.6 234.55L458.45 236.4L456.6 238.25L454.75 236.4ZM459.1 221.55L460.95 223.4L459.1 225.25L457.25 223.4ZM461.8 228.25L463.65 230.1L461.8 231.95L459.95 230.1ZM462.9 233.25L464.75 235.1L462.9 236.95L461.05 235.1ZM465.7 234.05L467.55 235.9L465.7 237.75L463.85 235.9ZM468.2 233.25L470.05 235.1L468.2 236.95L466.35 235.1ZM471 229.05L472.85 230.9L471 232.75L469.15 230.9ZM474.1 231.15L475.95 233L474.1 234.85L472.25 233ZM476.6 226.75L478.45 228.6L476.6 230.45L474.75 228.6ZM479.7 218.65L481.55 220.5L479.7 222.35L477.85 220.5ZM482.4 222.45L484.25 224.3L482.4 226.15L480.55 224.3ZM485.3 219.95L487.15 221.8L485.3 223.65L483.45 221.8ZM488.1 220.85L489.95 222.7L488.1 224.55L486.25 222.7ZM491.1 215.55L492.95 217.4L491.1 219.25L489.25 217.4ZM494.4 221.15L496.25 223L494.4 224.85L492.55 223ZM497.4 226.15L499.25 228L497.4 229.85L495.55 228ZM500.6 225.75L502.45 227.6L500.6 229.45L498.75 227.6ZM503.3 227.75L505.15 229.6L503.3 231.45L501.45 229.6ZM504.6 223.65L506.45 225.5L504.6 227.35L502.75 225.5Z" fill="#b30f55"/>
<path d="M421.4 205.6V265.4" stroke="#111" stroke-width="1.3"/>
<path d="M420.8 233H507.2" stroke="#111" stroke-width="1.3"/>
<path d="M421.4 233V235.6M425.57 233V234.5M429.74 233V234.5M433.91 233V234.5M438.08 233V234.5M442.25 233V234.5M446.42 233V234.5M450.59 233V234.5M454.76 233V234.5M458.93 233V234.5M463.1 233V235.6M467.27 233V234.5M471.44 233V234.5M475.61 233V234.5M479.78 233V234.5M483.95 233V234.5M488.12 233V234.5M492.29 233V234.5M496.46 233V234.5M500.63 233V234.5M504.8 233V235.6M418.6 257.8H421.4M418.6 245.4H421.4M418.6 233H421.4M418.6 220.6H421.4M418.6 208.2H421.4M419.8 251.6H421.4M419.8 239.2H421.4M419.8 226.8H421.4M419.8 214.4H421.4" stroke="#111" stroke-width="0.7"/>
<text x="415.4" y="260.1" font-size="6.6" text-anchor="end" font-weight="normal" fill="#222" stroke="#222" stroke-width="0.15">-40</text>
<text x="415.4" y="247.7" font-size="6.6" text-anchor="end" font-weight="normal" fill="#222" stroke="#222" stroke-width="0.15">-20</text>
<text x="415.4" y="235.3" font-size="6.6" text-anchor="end" font-weight="normal" fill="#222" stroke="#222" stroke-width="0.15">0</text>
<text x="415.4" y="222.9" font-size="6.6" text-anchor="end" font-weight="normal" fill="#222" stroke="#222" stroke-width="0.15">20</text>
<text x="415.4" y="210.5" font-size="6.6" text-anchor="end" font-weight="normal" fill="#222" stroke="#222" stroke-width="0.15">40</text>
<text x="463.1" y="244.3" font-size="6.6" text-anchor="middle" font-weight="normal" fill="#222" stroke="#222" stroke-width="0.15">50</text>
<text x="504.8" y="244.3" font-size="6.6" text-anchor="middle" font-weight="normal" fill="#222" stroke="#222" stroke-width="0.15">100</text>
<text x="464.9" y="280.4" font-size="8.4" text-anchor="middle" font-weight="bold" fill="#1a1a1a" textLength="11.5" lengthAdjust="spacingAndGlyphs" stroke="#1a1a1a" stroke-width="0.2">Days</text>
<text transform="translate(399.4 234.7) rotate(-90)" font-size="6.9" text-anchor="middle" font-weight="normal" fill="#1a1a1a" stroke="#1a1a1a" stroke-width="0.38" textLength="40.3" lengthAdjust="spacingAndGlyphs">% Improvement</text>
<text x="464.6" y="195" font-size="8.6" text-anchor="middle" font-weight="normal" fill="#111" textLength="65.4" lengthAdjust="spacingAndGlyphs" stroke="#111" stroke-width="0.18">BUN Improvement</text>
<path d="M295.4 323.3H322.4V327.7" stroke="#333" stroke-width="1.05" fill="none"/>
<text x="309.3" y="323.9" font-size="6.6" text-anchor="middle" font-weight="normal" fill="#111">****</text>
<polyline points="295.4,338 297.8,328.9 300.7,363.2 303.5,359.8 306.6,364.4 309.4,358.8 312.4,361.1 314.9,346.6 317.4,358.2 320.9,358.2 323.6,357.8 327.1,356.3 329.9,358.2 333.1,359.5 335.7,353.1 338.7,357.6 341.8,354.8 344.3,362.8 347.5,357 350.6,355.1 353.4,356.3 356.2,357 359.3,353.6 361.8,337.4 365.1,343.9 368,346.6 371.1,354.8 372.4,367.3 376.7,362.3 378.6,365.3" fill="none" stroke="#e0e5cc" stroke-width="0.95" stroke-dasharray="1.5 0.8"/>
<path d="M295.4 336.3L297.1 338L295.4 339.7L293.7 338ZM297.8 327.2L299.5 328.9L297.8 330.6L296.1 328.9ZM300.7 361.5L302.4 363.2L300.7 364.9L299 363.2ZM303.5 358.1L305.2 359.8L303.5 361.5L301.8 359.8ZM306.6 362.7L308.3 364.4L306.6 366.1L304.9 364.4ZM309.4 357.1L311.1 358.8L309.4 360.5L307.7 358.8ZM312.4 359.4L314.1 361.1L312.4 362.8L310.7 361.1ZM314.9 344.9L316.6 346.6L314.9 348.3L313.2 346.6ZM317.4 356.5L319.1 358.2L317.4 359.9L315.7 358.2ZM320.9 356.5L322.6 358.2L320.9 359.9L319.2 358.2ZM323.6 356.1L325.3 357.8L323.6 359.5L321.9 357.8ZM327.1 354.6L328.8 356.3L327.1 358L325.4 356.3ZM329.9 356.5L331.6 358.2L329.9 359.9L328.2 358.2ZM333.1 357.8L334.8 359.5L333.1 361.2L331.4 359.5ZM335.7 351.4L337.4 353.1L335.7 354.8L334 353.1ZM338.7 355.9L340.4 357.6L338.7 359.3L337 357.6ZM341.8 353.1L343.5 354.8L341.8 356.5L340.1 354.8ZM344.3 361.1L346 362.8L344.3 364.5L342.6 362.8ZM347.5 355.3L349.2 357L347.5 358.7L345.8 357ZM350.6 353.4L352.3 355.1L350.6 356.8L348.9 355.1ZM353.4 354.6L355.1 356.3L353.4 358L351.7 356.3ZM356.2 355.3L357.9 357L356.2 358.7L354.5 357ZM359.3 351.9L361 353.6L359.3 355.3L357.6 353.6ZM361.8 335.7L363.5 337.4L361.8 339.1L360.1 337.4ZM365.1 342.2L366.8 343.9L365.1 345.6L363.4 343.9ZM368 344.9L369.7 346.6L368 348.3L366.3 346.6ZM371.1 353.1L372.8 354.8L371.1 356.5L369.4 354.8ZM372.4 365.6L374.1 367.3L372.4 369L370.7 367.3ZM376.7 360.6L378.4 362.3L376.7 364L375 362.3ZM378.6 363.6L380.3 365.3L378.6 367L376.9 365.3Z" fill="#e2e3dc" stroke="#a0a48c" stroke-width="1"/>
<polyline points="295.4,340.8 297.2,350.1 300.7,357 303.5,359.1 306.6,361.6 309.4,363.2 312.4,364.8 315.3,361.6 318.1,364.4 321.1,359.1 324,360.1 326.9,361.3 329.9,358.6 332.7,358.8 335.6,358.4 338.5,361.1 341.8,356.1 344.7,357.6 347.5,355.7 350.6,355.1 353.7,354.8 356.4,353.8 359.3,350.1 361.8,344.5 364.6,345.8 367.6,347.4 371.1,348.6 373,345.8 376.1,362.3 378.6,353.8" fill="none" stroke="#dbe8b8" stroke-width="1.15" stroke-linejoin="round"/>
<path d="M295.4 338.95L297.25 340.8L295.4 342.65L293.55 340.8ZM297.2 348.25L299.05 350.1L297.2 351.95L295.35 350.1ZM300.7 355.15L302.55 357L300.7 358.85L298.85 357ZM303.5 357.25L305.35 359.1L303.5 360.95L301.65 359.1ZM306.6 359.75L308.45 361.6L306.6 363.45L304.75 361.6ZM309.4 361.35L311.25 363.2L309.4 365.05L307.55 363.2ZM312.4 362.95L314.25 364.8L312.4 366.65L310.55 364.8ZM315.3 359.75L317.15 361.6L315.3 363.45L313.45 361.6ZM318.1 362.55L319.95 364.4L318.1 366.25L316.25 364.4ZM321.1 357.25L322.95 359.1L321.1 360.95L319.25 359.1ZM324 358.25L325.85 360.1L324 361.95L322.15 360.1ZM326.9 359.45L328.75 361.3L326.9 363.15L325.05 361.3ZM329.9 356.75L331.75 358.6L329.9 360.45L328.05 358.6ZM332.7 356.95L334.55 358.8L332.7 360.65L330.85 358.8ZM335.6 356.55L337.45 358.4L335.6 360.25L333.75 358.4ZM338.5 359.25L340.35 361.1L338.5 362.95L336.65 361.1ZM341.8 354.25L343.65 356.1L341.8 357.95L339.95 356.1ZM344.7 355.75L346.55 357.6L344.7 359.45L342.85 357.6ZM347.5 353.85L349.35 355.7L347.5 357.55L345.65 355.7ZM350.6 353.25L352.45 355.1L350.6 356.95L348.75 355.1ZM353.7 352.95L355.55 354.8L353.7 356.65L351.85 354.8ZM356.4 351.95L358.25 353.8L356.4 355.65L354.55 353.8ZM359.3 348.25L361.15 350.1L359.3 351.95L357.45 350.1ZM361.8 342.65L363.65 344.5L361.8 346.35L359.95 344.5ZM364.6 343.95L366.45 345.8L364.6 347.65L362.75 345.8ZM367.6 345.55L369.45 347.4L367.6 349.25L365.75 347.4ZM371.1 346.75L372.95 348.6L371.1 350.45L369.25 348.6ZM373 343.95L374.85 345.8L373 347.65L371.15 345.8ZM376.1 360.45L377.95 362.3L376.1 364.15L374.25 362.3ZM378.6 351.95L380.45 353.8L378.6 355.65L376.75 353.8Z" fill="#8c9878"/>
<path d="M295.4 317.1V375.6" stroke="#111" stroke-width="1.3"/>
<path d="M294.8 375H380.5" stroke="#111" stroke-width="1.3"/>
<path d="M295.4 375V377.6M299.56 375V376.5M303.72 375V376.5M307.88 375V376.5M312.04 375V376.5M316.2 375V376.5M320.36 375V376.5M324.52 375V376.5M328.68 375V376.5M332.84 375V376.5M337 375V377.6M341.16 375V376.5M345.32 375V376.5M349.48 375V376.5M353.64 375V376.5M357.8 375V376.5M361.96 375V376.5M366.12 375V376.5M370.28 375V376.5M374.44 375V376.5M378.6 375V377.6M292.6 375H295.4M292.6 356.53H295.4M292.6 338.07H295.4M292.6 319.6H295.4M293.8 365.77H295.4M293.8 347.3H295.4M293.8 328.83H295.4" stroke="#111" stroke-width="0.7"/>
<text x="289.4" y="377.3" font-size="6.6" text-anchor="end" font-weight="normal" fill="#222" stroke="#222" stroke-width="0.15">0.4</text>
<text x="289.4" y="358.83" font-size="6.6" text-anchor="end" font-weight="normal" fill="#222" stroke="#222" stroke-width="0.15">0.6</text>
<text x="289.4" y="340.37" font-size="6.6" text-anchor="end" font-weight="normal" fill="#222" stroke="#222" stroke-width="0.15">0.8</text>
<text x="289.4" y="321.9" font-size="6.6" text-anchor="end" font-weight="normal" fill="#222" stroke="#222" stroke-width="0.15">1.0</text>
<text x="295.4" y="386.5" font-size="6.6" text-anchor="middle" font-weight="normal" fill="#222" stroke="#222" stroke-width="0.15">0</text>
<text x="337" y="386.5" font-size="6.6" text-anchor="middle" font-weight="normal" fill="#222" stroke="#222" stroke-width="0.15">50</text>
<text x="378.6" y="386.5" font-size="6.6" text-anchor="middle" font-weight="normal" fill="#222" stroke="#222" stroke-width="0.15">100</text>
<text x="338.5" y="397.6" font-size="8.4" text-anchor="middle" font-weight="bold" fill="#1a1a1a" textLength="11.5" lengthAdjust="spacingAndGlyphs" stroke="#1a1a1a" stroke-width="0.2">Days</text>
<text transform="translate(275.8 345.7) rotate(-90)" font-size="6.9" text-anchor="middle" font-weight="normal" fill="#1a1a1a" stroke="#1a1a1a" stroke-width="0.38" textLength="31" lengthAdjust="spacingAndGlyphs">mg/dL/ULN</text>
<text x="338.5" y="306.9" font-size="8.6" text-anchor="middle" font-weight="normal" fill="#111" textLength="77.9" lengthAdjust="spacingAndGlyphs" stroke="#111" stroke-width="0.18">Normalized Creatinine</text>
<path d="M421.4 337.9H448.4V341.6" stroke="#333" stroke-width="1.05" fill="none"/>
<text x="435.3" y="338.2" font-size="6.6" text-anchor="middle" font-weight="normal" fill="#111">*</text>
<polyline points="421.4,375 423.8,372.5 427,353.2 429.7,346.1 432.9,341.1 435.7,346.6 438.8,343.6 441.7,361.1 444.6,346.4 447.5,344.9 450.4,340.4 453.1,337 456.6,340.4 459.3,343.3 461.8,347.8 464.7,340.4 468,350 471,368.2 473.7,342 476.6,351.1 479.7,343.9 482.8,346.1 485.7,350.4 488.1,340.2 491.5,367.5 494,328 497.4,338.3 499,325.5 503.1,325 504.8,330.4" fill="none" stroke="#e0e5cc" stroke-width="0.95" stroke-dasharray="1.5 0.8"/>
<path d="M421.4 373.3L423.1 375L421.4 376.7L419.7 375ZM423.8 370.8L425.5 372.5L423.8 374.2L422.1 372.5ZM427 351.5L428.7 353.2L427 354.9L425.3 353.2ZM429.7 344.4L431.4 346.1L429.7 347.8L428 346.1ZM432.9 339.4L434.6 341.1L432.9 342.8L431.2 341.1ZM435.7 344.9L437.4 346.6L435.7 348.3L434 346.6ZM438.8 341.9L440.5 343.6L438.8 345.3L437.1 343.6ZM441.7 359.4L443.4 361.1L441.7 362.8L440 361.1ZM444.6 344.7L446.3 346.4L444.6 348.1L442.9 346.4ZM447.5 343.2L449.2 344.9L447.5 346.6L445.8 344.9ZM450.4 338.7L452.1 340.4L450.4 342.1L448.7 340.4ZM453.1 335.3L454.8 337L453.1 338.7L451.4 337ZM456.6 338.7L458.3 340.4L456.6 342.1L454.9 340.4ZM459.3 341.6L461 343.3L459.3 345L457.6 343.3ZM461.8 346.1L463.5 347.8L461.8 349.5L460.1 347.8ZM464.7 338.7L466.4 340.4L464.7 342.1L463 340.4ZM468 348.3L469.7 350L468 351.7L466.3 350ZM471 366.5L472.7 368.2L471 369.9L469.3 368.2ZM473.7 340.3L475.4 342L473.7 343.7L472 342ZM476.6 349.4L478.3 351.1L476.6 352.8L474.9 351.1ZM479.7 342.2L481.4 343.9L479.7 345.6L478 343.9ZM482.8 344.4L484.5 346.1L482.8 347.8L481.1 346.1ZM485.7 348.7L487.4 350.4L485.7 352.1L484 350.4ZM488.1 338.5L489.8 340.2L488.1 341.9L486.4 340.2ZM491.5 365.8L493.2 367.5L491.5 369.2L489.8 367.5ZM494 326.3L495.7 328L494 329.7L492.3 328ZM497.4 336.6L499.1 338.3L497.4 340L495.7 338.3ZM499 323.8L500.7 325.5L499 327.2L497.3 325.5ZM503.1 323.3L504.8 325L503.1 326.7L501.4 325ZM504.8 328.7L506.5 330.4L504.8 332.1L503.1 330.4Z" fill="#e2e3dc" stroke="#a0a48c" stroke-width="1"/>
<polyline points="421.4,375 423.8,358.2 426.7,357.6 429.5,356.1 432.2,352.4 435.4,349.5 438.4,354.5 441.7,355.1 444.4,354.5 447.5,357 450.4,356.3 453.1,357.6 456.2,357.8 459.1,356.1 461.8,356.3 464.7,355.1 468.2,357.3 471,354.8 474.1,359.1 476.6,357.6 479.7,360.3 482.8,364.8 485.7,362.8 488.1,362.8 491.5,362.8 494.4,365.1 497.1,364.1 499.9,358.8 503.3,353.6 504.8,366.3" fill="none" stroke="#dbe8b8" stroke-width="1.15" stroke-linejoin="round"/>
<path d="M421.4 373.15L423.25 375L421.4 376.85L419.55 375ZM423.8 356.35L425.65 358.2L423.8 360.05L421.95 358.2ZM426.7 355.75L428.55 357.6L426.7 359.45L424.85 357.6ZM429.5 354.25L431.35 356.1L429.5 357.95L427.65 356.1ZM432.2 350.55L434.05 352.4L432.2 354.25L430.35 352.4ZM435.4 347.65L437.25 349.5L435.4 351.35L433.55 349.5ZM438.4 352.65L440.25 354.5L438.4 356.35L436.55 354.5ZM441.7 353.25L443.55 355.1L441.7 356.95L439.85 355.1ZM444.4 352.65L446.25 354.5L444.4 356.35L442.55 354.5ZM447.5 355.15L449.35 357L447.5 358.85L445.65 357ZM450.4 354.45L452.25 356.3L450.4 358.15L448.55 356.3ZM453.1 355.75L454.95 357.6L453.1 359.45L451.25 357.6ZM456.2 355.95L458.05 357.8L456.2 359.65L454.35 357.8ZM459.1 354.25L460.95 356.1L459.1 357.95L457.25 356.1ZM461.8 354.45L463.65 356.3L461.8 358.15L459.95 356.3ZM464.7 353.25L466.55 355.1L464.7 356.95L462.85 355.1ZM468.2 355.45L470.05 357.3L468.2 359.15L466.35 357.3ZM471 352.95L472.85 354.8L471 356.65L469.15 354.8ZM474.1 357.25L475.95 359.1L474.1 360.95L472.25 359.1ZM476.6 355.75L478.45 357.6L476.6 359.45L474.75 357.6ZM479.7 358.45L481.55 360.3L479.7 362.15L477.85 360.3ZM482.8 362.95L484.65 364.8L482.8 366.65L480.95 364.8ZM485.7 360.95L487.55 362.8L485.7 364.65L483.85 362.8ZM488.1 360.95L489.95 362.8L488.1 364.65L486.25 362.8ZM491.5 360.95L493.35 362.8L491.5 364.65L489.65 362.8ZM494.4 363.25L496.25 365.1L494.4 366.95L492.55 365.1ZM497.1 362.25L498.95 364.1L497.1 365.95L495.25 364.1ZM499.9 356.95L501.75 358.8L499.9 360.65L498.05 358.8ZM503.3 351.75L505.15 353.6L503.3 355.45L501.45 353.6ZM504.8 364.45L506.65 366.3L504.8 368.15L502.95 366.3Z" fill="#8c9878"/>
<path d="M421.4 316.7V375.9" stroke="#111" stroke-width="1.3"/>
<path d="M420.8 375.3H507.2" stroke="#111" stroke-width="1.3"/>
<path d="M421.4 375.3V377.9M425.57 375.3V376.8M429.74 375.3V376.8M433.91 375.3V376.8M438.08 375.3V376.8M442.25 375.3V376.8M446.42 375.3V376.8M450.59 375.3V376.8M454.76 375.3V376.8M458.93 375.3V376.8M463.1 375.3V377.9M467.27 375.3V376.8M471.44 375.3V376.8M475.61 375.3V376.8M479.78 375.3V376.8M483.95 375.3V376.8M488.12 375.3V376.8M492.29 375.3V376.8M496.46 375.3V376.8M500.63 375.3V376.8M504.8 375.3V377.9M418.6 375.3H421.4M418.6 361.38H421.4M418.6 347.45H421.4M418.6 333.53H421.4M418.6 319.6H421.4M419.8 368.34H421.4M419.8 354.41H421.4M419.8 340.49H421.4M419.8 326.56H421.4" stroke="#111" stroke-width="0.7"/>
<text x="415.4" y="377.6" font-size="6.6" text-anchor="end" font-weight="normal" fill="#222" stroke="#222" stroke-width="0.15">0</text>
<text x="415.4" y="363.68" font-size="6.6" text-anchor="end" font-weight="normal" fill="#222" stroke="#222" stroke-width="0.15">20</text>
<text x="415.4" y="349.75" font-size="6.6" text-anchor="end" font-weight="normal" fill="#222" stroke="#222" stroke-width="0.15">40</text>
<text x="415.4" y="335.83" font-size="6.6" text-anchor="end" font-weight="normal" fill="#222" stroke="#222" stroke-width="0.15">60</text>
<text x="415.4" y="321.9" font-size="6.6" text-anchor="end" font-weight="normal" fill="#222" stroke="#222" stroke-width="0.15">80</text>
<text x="421.4" y="386.8" font-size="6.6" text-anchor="middle" font-weight="normal" fill="#222" stroke="#222" stroke-width="0.15">0</text>
<text x="463.1" y="386.8" font-size="6.6" text-anchor="middle" font-weight="normal" fill="#222" stroke="#222" stroke-width="0.15">50</text>
<text x="504.8" y="386.8" font-size="6.6" text-anchor="middle" font-weight="normal" fill="#222" stroke="#222" stroke-width="0.15">100</text>
<text x="464.9" y="397.6" font-size="8.4" text-anchor="middle" font-weight="bold" fill="#1a1a1a" textLength="11.5" lengthAdjust="spacingAndGlyphs" stroke="#1a1a1a" stroke-width="0.2">Days</text>
<text transform="translate(402.6 345.8) rotate(-90)" font-size="6.9" text-anchor="middle" font-weight="normal" fill="#1a1a1a" stroke="#1a1a1a" stroke-width="0.38" textLength="40.3" lengthAdjust="spacingAndGlyphs">% Improvement</text>
<text x="464.5" y="306.9" font-size="8.6" text-anchor="middle" font-weight="normal" fill="#111" textLength="82.7" lengthAdjust="spacingAndGlyphs" stroke="#111" stroke-width="0.18">Creatinine Improvement</text>
<path d="M295 427.2H321.5V431.7" stroke="#333" stroke-width="1.05" fill="none"/>
<text x="308.7" y="427.6" font-size="6.6" text-anchor="middle" font-weight="normal" fill="#111">*</text>
<polyline points="295,445.7 297.5,458.7 300.7,456.6 303.5,462.8 306.6,461.8 309.4,469.1 312.8,455.4 315.3,465.8 318.4,472.8 320.9,467.8 324,470.8 326.9,471.6 329.9,465.6 333.1,467.1 335.8,467.1 338.5,451.6 341.5,463.1 344.3,455.4 347.5,450 350.2,445 353.4,458.1 356.2,453.8 358.9,447.5 361.8,437.6 364.9,442.9 367.6,431.3 371.1,428.2 373,436 376.7,451.9" fill="none" stroke="#d98a48" stroke-width="0.95" stroke-dasharray="1.5 0.8"/>
<path d="M295 444L296.7 445.7L295 447.4L293.3 445.7ZM297.5 457L299.2 458.7L297.5 460.4L295.8 458.7ZM300.7 454.9L302.4 456.6L300.7 458.3L299 456.6ZM303.5 461.1L305.2 462.8L303.5 464.5L301.8 462.8ZM306.6 460.1L308.3 461.8L306.6 463.5L304.9 461.8ZM309.4 467.4L311.1 469.1L309.4 470.8L307.7 469.1ZM312.8 453.7L314.5 455.4L312.8 457.1L311.1 455.4ZM315.3 464.1L317 465.8L315.3 467.5L313.6 465.8ZM318.4 471.1L320.1 472.8L318.4 474.5L316.7 472.8ZM320.9 466.1L322.6 467.8L320.9 469.5L319.2 467.8ZM324 469.1L325.7 470.8L324 472.5L322.3 470.8ZM326.9 469.9L328.6 471.6L326.9 473.3L325.2 471.6ZM329.9 463.9L331.6 465.6L329.9 467.3L328.2 465.6ZM333.1 465.4L334.8 467.1L333.1 468.8L331.4 467.1ZM335.8 465.4L337.5 467.1L335.8 468.8L334.1 467.1ZM338.5 449.9L340.2 451.6L338.5 453.3L336.8 451.6ZM341.5 461.4L343.2 463.1L341.5 464.8L339.8 463.1ZM344.3 453.7L346 455.4L344.3 457.1L342.6 455.4ZM347.5 448.3L349.2 450L347.5 451.7L345.8 450ZM350.2 443.3L351.9 445L350.2 446.7L348.5 445ZM353.4 456.4L355.1 458.1L353.4 459.8L351.7 458.1ZM356.2 452.1L357.9 453.8L356.2 455.5L354.5 453.8ZM358.9 445.8L360.6 447.5L358.9 449.2L357.2 447.5ZM361.8 435.9L363.5 437.6L361.8 439.3L360.1 437.6ZM364.9 441.2L366.6 442.9L364.9 444.6L363.2 442.9ZM367.6 429.6L369.3 431.3L367.6 433L365.9 431.3ZM371.1 426.5L372.8 428.2L371.1 429.9L369.4 428.2ZM373 434.3L374.7 436L373 437.7L371.3 436ZM376.7 450.2L378.4 451.9L376.7 453.6L375 451.9Z" fill="#cec8c4" stroke="#5e4a3c" stroke-width="1"/>
<polyline points="295,430.7 295.4,434.5 295.6,445.5 297.5,446.7 300.7,449.6 303.5,449.1 306.2,460.9 309.4,462.1 312.4,465 315.3,461.6 318.1,462.8 321.1,460.4 324,464.3 326.9,461.8 329.9,465 332.7,465.6 335.8,467.5 338.5,464.6 341.5,468.3 344.3,467.5 347.5,467.8 350.2,468.3 353.4,469.3 356.2,469.9 358.9,469.9 361.8,471.6 364.6,469.9 367.6,469.9 371.1,469.1 373,471.6 377.1,469.9" fill="none" stroke="#8a4a1c" stroke-width="1.15" stroke-linejoin="round"/>
<path d="M295 428.85L296.85 430.7L295 432.55L293.15 430.7ZM295.4 432.65L297.25 434.5L295.4 436.35L293.55 434.5ZM295.6 443.65L297.45 445.5L295.6 447.35L293.75 445.5ZM297.5 444.85L299.35 446.7L297.5 448.55L295.65 446.7ZM300.7 447.75L302.55 449.6L300.7 451.45L298.85 449.6ZM303.5 447.25L305.35 449.1L303.5 450.95L301.65 449.1ZM306.2 459.05L308.05 460.9L306.2 462.75L304.35 460.9ZM309.4 460.25L311.25 462.1L309.4 463.95L307.55 462.1ZM312.4 463.15L314.25 465L312.4 466.85L310.55 465ZM315.3 459.75L317.15 461.6L315.3 463.45L313.45 461.6ZM318.1 460.95L319.95 462.8L318.1 464.65L316.25 462.8ZM321.1 458.55L322.95 460.4L321.1 462.25L319.25 460.4ZM324 462.45L325.85 464.3L324 466.15L322.15 464.3ZM326.9 459.95L328.75 461.8L326.9 463.65L325.05 461.8ZM329.9 463.15L331.75 465L329.9 466.85L328.05 465ZM332.7 463.75L334.55 465.6L332.7 467.45L330.85 465.6ZM335.8 465.65L337.65 467.5L335.8 469.35L333.95 467.5ZM338.5 462.75L340.35 464.6L338.5 466.45L336.65 464.6ZM341.5 466.45L343.35 468.3L341.5 470.15L339.65 468.3ZM344.3 465.65L346.15 467.5L344.3 469.35L342.45 467.5ZM347.5 465.95L349.35 467.8L347.5 469.65L345.65 467.8ZM350.2 466.45L352.05 468.3L350.2 470.15L348.35 468.3ZM353.4 467.45L355.25 469.3L353.4 471.15L351.55 469.3ZM356.2 468.05L358.05 469.9L356.2 471.75L354.35 469.9ZM358.9 468.05L360.75 469.9L358.9 471.75L357.05 469.9ZM361.8 469.75L363.65 471.6L361.8 473.45L359.95 471.6ZM364.6 468.05L366.45 469.9L364.6 471.75L362.75 469.9ZM367.6 468.05L369.45 469.9L367.6 471.75L365.75 469.9ZM371.1 467.25L372.95 469.1L371.1 470.95L369.25 469.1ZM373 469.75L374.85 471.6L373 473.45L371.15 471.6ZM377.1 468.05L378.95 469.9L377.1 471.75L375.25 469.9Z" fill="#2c1608"/>
<path d="M295 424.7V483.6" stroke="#111" stroke-width="1.3"/>
<path d="M294.4 483H380.5" stroke="#111" stroke-width="1.3"/>
<path d="M295 483V485.6M299.17 483V484.5M303.34 483V484.5M307.51 483V484.5M311.68 483V484.5M315.85 483V484.5M320.02 483V484.5M324.19 483V484.5M328.36 483V484.5M332.53 483V484.5M336.7 483V485.6M340.87 483V484.5M345.04 483V484.5M349.21 483V484.5M353.38 483V484.5M357.55 483V484.5M361.72 483V484.5M365.89 483V484.5M370.06 483V484.5M374.23 483V484.5M378.4 483V485.6M292.2 483H295M292.2 469.05H295M292.2 455.1H295M292.2 441.15H295M292.2 427.2H295M293.4 476.02H295M293.4 462.07H295M293.4 448.12H295M293.4 434.18H295" stroke="#111" stroke-width="0.7"/>
<text x="289" y="485.3" font-size="6.6" text-anchor="end" font-weight="normal" fill="#222" stroke="#222" stroke-width="0.15">0</text>
<text x="289" y="471.35" font-size="6.6" text-anchor="end" font-weight="normal" fill="#222" stroke="#222" stroke-width="0.15">50</text>
<text x="289" y="457.4" font-size="6.6" text-anchor="end" font-weight="normal" fill="#222" stroke="#222" stroke-width="0.15">100</text>
<text x="289" y="443.45" font-size="6.6" text-anchor="end" font-weight="normal" fill="#222" stroke="#222" stroke-width="0.15">150</text>
<text x="289" y="429.5" font-size="6.6" text-anchor="end" font-weight="normal" fill="#222" stroke="#222" stroke-width="0.15">200</text>
<text x="295" y="494.5" font-size="6.6" text-anchor="middle" font-weight="normal" fill="#222" stroke="#222" stroke-width="0.15">0</text>
<text x="336.7" y="494.5" font-size="6.6" text-anchor="middle" font-weight="normal" fill="#222" stroke="#222" stroke-width="0.15">50</text>
<text x="378.4" y="494.5" font-size="6.6" text-anchor="middle" font-weight="normal" fill="#222" stroke="#222" stroke-width="0.15">100</text>
<text x="338.5" y="505.4" font-size="8.4" text-anchor="middle" font-weight="bold" fill="#1a1a1a" textLength="11.5" lengthAdjust="spacingAndGlyphs" stroke="#1a1a1a" stroke-width="0.2">Days</text>
<text transform="translate(272.6 453.7) rotate(-90)" font-size="6.9" text-anchor="middle" font-weight="normal" fill="#1a1a1a" stroke="#1a1a1a" stroke-width="0.38" textLength="11.9" lengthAdjust="spacingAndGlyphs">IU/L</text>
<text x="337.8" y="419.4" font-size="8.6" text-anchor="middle" font-weight="normal" fill="#111" textLength="12.1" lengthAdjust="spacingAndGlyphs" stroke="#111" stroke-width="0.18">ALT</text>
<path d="M421.7 429.7H448.4V433.8" stroke="#333" stroke-width="1.05" fill="none"/>
<text x="435.7" y="430.1" font-size="6.6" text-anchor="middle" font-weight="normal" fill="#111">**</text>
<polyline points="421.7,482.8 423.8,463.3 427,455.4 429.5,448.2 432.9,454.6 435.4,441.3 438.4,439.2 441.7,442.2 444.6,434.2 447.5,441.7 450.4,435.9 453.1,434.5 456.2,432.2 459.3,436.3 462.2,440.1 465.1,437 468.2,433.2 471,440.4 474.1,448.2 476.6,458.1 479.9,450.4 482.8,454.1 485.9,459.4 488.1,476.8 491.2,438 494,481.8 497,437 499,467.1 503.3,440.4 504.8,469.1" fill="none" stroke="#d98a48" stroke-width="0.95" stroke-dasharray="1.5 0.8"/>
<path d="M421.7 481.1L423.4 482.8L421.7 484.5L420 482.8ZM423.8 461.6L425.5 463.3L423.8 465L422.1 463.3ZM427 453.7L428.7 455.4L427 457.1L425.3 455.4ZM429.5 446.5L431.2 448.2L429.5 449.9L427.8 448.2ZM432.9 452.9L434.6 454.6L432.9 456.3L431.2 454.6ZM435.4 439.6L437.1 441.3L435.4 443L433.7 441.3ZM438.4 437.5L440.1 439.2L438.4 440.9L436.7 439.2ZM441.7 440.5L443.4 442.2L441.7 443.9L440 442.2ZM444.6 432.5L446.3 434.2L444.6 435.9L442.9 434.2ZM447.5 440L449.2 441.7L447.5 443.4L445.8 441.7ZM450.4 434.2L452.1 435.9L450.4 437.6L448.7 435.9ZM453.1 432.8L454.8 434.5L453.1 436.2L451.4 434.5ZM456.2 430.5L457.9 432.2L456.2 433.9L454.5 432.2ZM459.3 434.6L461 436.3L459.3 438L457.6 436.3ZM462.2 438.4L463.9 440.1L462.2 441.8L460.5 440.1ZM465.1 435.3L466.8 437L465.1 438.7L463.4 437ZM468.2 431.5L469.9 433.2L468.2 434.9L466.5 433.2ZM471 438.7L472.7 440.4L471 442.1L469.3 440.4ZM474.1 446.5L475.8 448.2L474.1 449.9L472.4 448.2ZM476.6 456.4L478.3 458.1L476.6 459.8L474.9 458.1ZM479.9 448.7L481.6 450.4L479.9 452.1L478.2 450.4ZM482.8 452.4L484.5 454.1L482.8 455.8L481.1 454.1ZM485.9 457.7L487.6 459.4L485.9 461.1L484.2 459.4ZM488.1 475.1L489.8 476.8L488.1 478.5L486.4 476.8ZM491.2 436.3L492.9 438L491.2 439.7L489.5 438ZM494 480.1L495.7 481.8L494 483.5L492.3 481.8ZM497 435.3L498.7 437L497 438.7L495.3 437ZM499 465.4L500.7 467.1L499 468.8L497.3 467.1ZM503.3 438.7L505 440.4L503.3 442.1L501.6 440.4ZM504.8 467.4L506.5 469.1L504.8 470.8L503.1 469.1Z" fill="#cec8c4" stroke="#5e4a3c" stroke-width="1"/>
<polyline points="421.7,482.8 423.8,461.9 427.2,459.4 430.1,452.9 432.9,448.4 435.4,437.9 438.8,439.4 441.7,455.9 444.6,449.1 447.5,446.3 450.4,437.6 453.1,447.5 456.6,437.9 459.3,438.8 461.6,434.5 464.7,434.7 467.8,434.2 471,438.4 474.1,433.5 476.9,434.2 479.7,438.2 482.4,434.7 485.7,442.9 488.1,437.9 491.1,437.6 494,437.6 497.1,436 499.4,431.7 502.7,429.7 505.2,431.7" fill="none" stroke="#8a4a1c" stroke-width="1.15" stroke-linejoin="round"/>
<path d="M421.7 480.95L423.55 482.8L421.7 484.65L419.85 482.8ZM423.8 460.05L425.65 461.9L423.8 463.75L421.95 461.9ZM427.2 457.55L429.05 459.4L427.2 461.25L425.35 459.4ZM430.1 451.05L431.95 452.9L430.1 454.75L428.25 452.9ZM432.9 446.55L434.75 448.4L432.9 450.25L431.05 448.4ZM435.4 436.05L437.25 437.9L435.4 439.75L433.55 437.9ZM438.8 437.55L440.65 439.4L438.8 441.25L436.95 439.4ZM441.7 454.05L443.55 455.9L441.7 457.75L439.85 455.9ZM444.6 447.25L446.45 449.1L444.6 450.95L442.75 449.1ZM447.5 444.45L449.35 446.3L447.5 448.15L445.65 446.3ZM450.4 435.75L452.25 437.6L450.4 439.45L448.55 437.6ZM453.1 445.65L454.95 447.5L453.1 449.35L451.25 447.5ZM456.6 436.05L458.45 437.9L456.6 439.75L454.75 437.9ZM459.3 436.95L461.15 438.8L459.3 440.65L457.45 438.8ZM461.6 432.65L463.45 434.5L461.6 436.35L459.75 434.5ZM464.7 432.85L466.55 434.7L464.7 436.55L462.85 434.7ZM467.8 432.35L469.65 434.2L467.8 436.05L465.95 434.2ZM471 436.55L472.85 438.4L471 440.25L469.15 438.4ZM474.1 431.65L475.95 433.5L474.1 435.35L472.25 433.5ZM476.9 432.35L478.75 434.2L476.9 436.05L475.05 434.2ZM479.7 436.35L481.55 438.2L479.7 440.05L477.85 438.2ZM482.4 432.85L484.25 434.7L482.4 436.55L480.55 434.7ZM485.7 441.05L487.55 442.9L485.7 444.75L483.85 442.9ZM488.1 436.05L489.95 437.9L488.1 439.75L486.25 437.9ZM491.1 435.75L492.95 437.6L491.1 439.45L489.25 437.6ZM494 435.75L495.85 437.6L494 439.45L492.15 437.6ZM497.1 434.15L498.95 436L497.1 437.85L495.25 436ZM499.4 429.85L501.25 431.7L499.4 433.55L497.55 431.7ZM502.7 427.85L504.55 429.7L502.7 431.55L500.85 429.7ZM505.2 429.85L507.05 431.7L505.2 433.55L503.35 431.7Z" fill="#2c1608"/>
<path d="M421.7 424.5V483.4" stroke="#111" stroke-width="1.3"/>
<path d="M421.1 482.8H507.2" stroke="#111" stroke-width="1.3"/>
<path d="M421.7 482.8V485.4M425.86 482.8V484.3M430.02 482.8V484.3M434.18 482.8V484.3M438.34 482.8V484.3M442.5 482.8V484.3M446.66 482.8V484.3M450.82 482.8V484.3M454.98 482.8V484.3M459.14 482.8V484.3M463.3 482.8V485.4M467.46 482.8V484.3M471.62 482.8V484.3M475.78 482.8V484.3M479.94 482.8V484.3M484.1 482.8V484.3M488.26 482.8V484.3M492.42 482.8V484.3M496.58 482.8V484.3M500.74 482.8V484.3M504.9 482.8V485.4M418.9 482.8H421.7M418.9 468.85H421.7M418.9 454.9H421.7M418.9 440.95H421.7M418.9 427H421.7M420.1 475.82H421.7M420.1 461.88H421.7M420.1 447.93H421.7M420.1 433.98H421.7" stroke="#111" stroke-width="0.7"/>
<text x="415.7" y="485.1" font-size="6.6" text-anchor="end" font-weight="normal" fill="#222" stroke="#222" stroke-width="0.15">0</text>
<text x="415.7" y="471.15" font-size="6.6" text-anchor="end" font-weight="normal" fill="#222" stroke="#222" stroke-width="0.15">20</text>
<text x="415.7" y="457.2" font-size="6.6" text-anchor="end" font-weight="normal" fill="#222" stroke="#222" stroke-width="0.15">40</text>
<text x="415.7" y="443.25" font-size="6.6" text-anchor="end" font-weight="normal" fill="#222" stroke="#222" stroke-width="0.15">60</text>
<text x="415.7" y="429.3" font-size="6.6" text-anchor="end" font-weight="normal" fill="#222" stroke="#222" stroke-width="0.15">80</text>
<text x="421.7" y="494.3" font-size="6.6" text-anchor="middle" font-weight="normal" fill="#222" stroke="#222" stroke-width="0.15">0</text>
<text x="463.3" y="494.3" font-size="6.6" text-anchor="middle" font-weight="normal" fill="#222" stroke="#222" stroke-width="0.15">50</text>
<text x="504.9" y="494.3" font-size="6.6" text-anchor="middle" font-weight="normal" fill="#222" stroke="#222" stroke-width="0.15">100</text>
<text x="464.9" y="505.4" font-size="8.4" text-anchor="middle" font-weight="bold" fill="#1a1a1a" textLength="11.5" lengthAdjust="spacingAndGlyphs" stroke="#1a1a1a" stroke-width="0.2">Days</text>
<text transform="translate(402.6 453.4) rotate(-90)" font-size="6.9" text-anchor="middle" font-weight="normal" fill="#1a1a1a" stroke="#1a1a1a" stroke-width="0.38" textLength="40.3" lengthAdjust="spacingAndGlyphs">% Improvement</text>
<text x="464.5" y="419.8" font-size="8.6" text-anchor="middle" font-weight="normal" fill="#111" textLength="60.2" lengthAdjust="spacingAndGlyphs" stroke="#111" stroke-width="0.18">ALT Improvement</text>
<path d="M170.9 520.1H185.6" stroke="#666" stroke-width="1.6"/>
<path d="M178.4 517.3L181.2 520.1L178.4 522.9L175.6 520.1Z" fill="#111"/>
<text x="189" y="522.3" font-size="6.4" text-anchor="start" font-weight="normal" fill="#222" textLength="71.8" lengthAdjust="spacingAndGlyphs">Survived +/- BMT (n = 77)</text>
<path d="M269.3 519.8H271.9M282.4 519.8H284.3" stroke="#777" stroke-width="1.4"/>
<path d="M277.3 516.8L280.3 519.8L277.3 522.8L274.3 519.8Z" fill="#bbb" stroke="#111" stroke-width="1"/>
<text x="287.6" y="522.3" font-size="6.4" text-anchor="start" font-weight="normal" fill="#222" textLength="60.5" lengthAdjust="spacingAndGlyphs">Died pre-BMT (n = 12)</text>
</svg></body></html>
